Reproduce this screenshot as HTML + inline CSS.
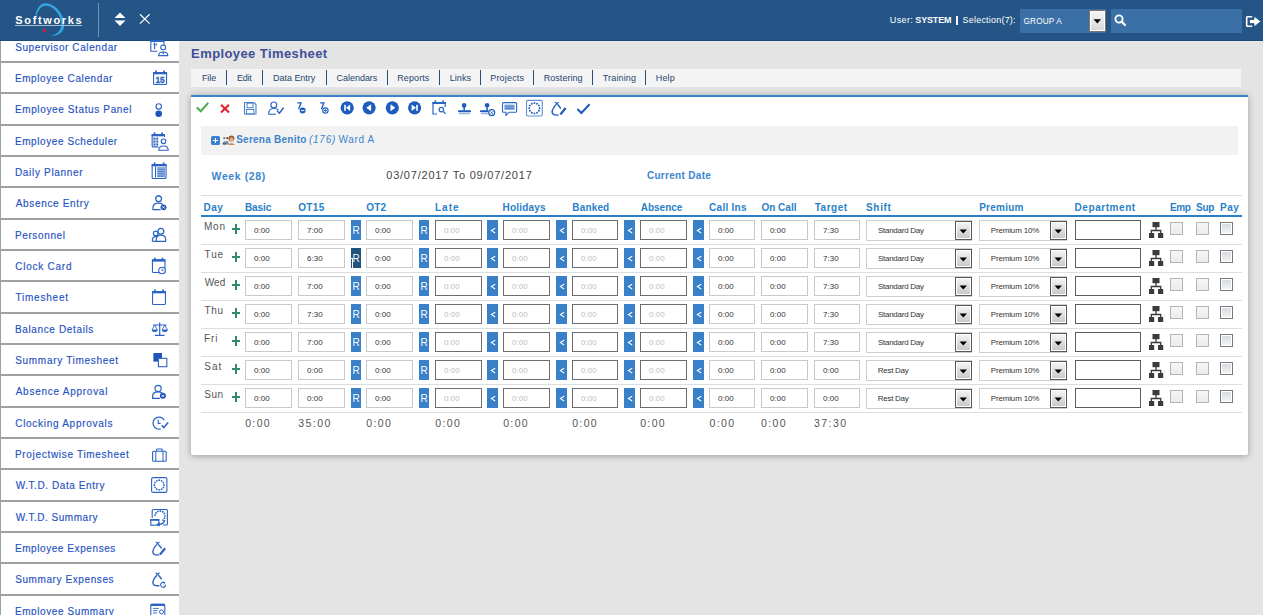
<!DOCTYPE html><html><head><meta charset="utf-8"><style>
html,body{margin:0;padding:0;}
body{width:1263px;height:615px;overflow:hidden;position:relative;background:#e4e4e4;font-family:"Liberation Sans",sans-serif;}
.t{position:absolute;white-space:nowrap;font-family:"Liberation Sans",sans-serif;}
svg{overflow:visible}
</style></head><body>

<div style="position:absolute;left:0px;top:0px;width:1263px;height:40px;background:#245586;"></div>
<div style="position:absolute;left:0px;top:40px;width:1263px;height:1px;background:#1c4a78;"></div>
<div style="position:absolute;left:179px;top:41px;width:1084px;height:1px;background:#ebe9e7;"></div>
<svg style="position:absolute;left:0px;top:0px;" width="100" height="40" viewBox="0 0 100 40"><path d="M35.3 21 C 34.8 10, 39.5 3.2, 45.5 3.2 C 54 3.2, 63.8 12.5, 64.2 24.5 C 64.4 32.5, 58.5 36, 50.5 35.8 C 56.5 35, 61.2 30.5, 61.3 24.5 C 61 14, 53 5.8, 46 5.8 C 40.5 5.8, 36.8 11.5, 35.3 21 Z" fill="#34a6e2"/></svg>
<div class="t" style="left:15.37px;top:15.40px;font-size:11px;line-height:11px;color:#ffffff;font-weight:bold;font-style:normal;letter-spacing:1.629px;">Softworks</div>
<div style="position:absolute;left:15px;top:25px;width:67px;height:1.2px;background:#aebbcc;"></div>
<div style="position:absolute;left:43.3px;top:29.4px;width:3px;height:3px;background:#ee1c1c;border-radius:50%;"></div>
<div style="position:absolute;left:98px;top:3px;width:1px;height:34px;background:#7294b8;"></div>
<svg style="position:absolute;left:114px;top:12px;" width="12" height="15" viewBox="0 0 12 15"><path d="M6 0.5 L11.5 6 L0.5 6 Z" fill="#fff"/><path d="M0.5 8.5 L11.5 8.5 L6 14 Z" fill="#fff"/></svg>
<svg style="position:absolute;left:139px;top:13px;" width="12" height="12" viewBox="0 0 12 12"><path d="M1 1.3 L10.6 10.6 M10.6 1.3 L1 10.6" stroke="#fff" stroke-width="1.2"/></svg>
<div class="t" style="left:889.78px;top:16.20px;font-size:9px;line-height:9px;color:#ffffff;font-weight:normal;font-style:normal;letter-spacing:0.380px;">User:</div>
<div class="t" style="left:915.33px;top:16.20px;font-size:9px;line-height:9px;color:#ffffff;font-weight:bold;font-style:normal;letter-spacing:-0.156px;">SYSTEM</div>
<div style="position:absolute;left:956px;top:16px;width:2px;height:9px;background:#f4f4f4;"></div>
<div class="t" style="left:962.55px;top:16.20px;font-size:9px;line-height:9px;color:#ffffff;font-weight:normal;font-style:normal;letter-spacing:0.207px;">Selection(7):</div>
<div style="position:absolute;left:1020px;top:9px;width:86px;height:24px;background:#3a70a6;"></div>
<div class="t" style="left:1023.59px;top:17.80px;font-size:8.2px;line-height:8.2px;color:#ffffff;font-weight:normal;font-style:normal;letter-spacing:0.144px;">GROUP A</div>
<div style="position:absolute;left:1089px;top:10px;width:17px;height:22px;background:linear-gradient(#f6f6f6,#d6d6d6);border:1px solid #7b736c;box-shadow:inset 1px 1px 0 #fff, inset -1px -1px 0 #fff;box-sizing:border-box;"></div>
<svg style="position:absolute;left:1093px;top:18.5px;" width="9" height="5" viewBox="0 0 9 5"><path d="M0.6 0.3 L8 0.3 L4.3 4.5 Z" fill="#000"/></svg>
<div style="position:absolute;left:1111px;top:9px;width:131px;height:24px;background:#3a70a6;"></div>
<svg style="position:absolute;left:1114px;top:14px;" width="13" height="13" viewBox="0 0 13 13"><circle cx="5" cy="5" r="3.6" fill="none" stroke="#fff" stroke-width="1.8"/><path d="M7.6 7.6 L11 11" stroke="#fff" stroke-width="2.2" stroke-linecap="round"/></svg>
<svg style="position:absolute;left:1240px;top:10px;" width="24" height="20" viewBox="0 0 24 20"><path d="M12.2 6.7 H7.5 Q6.7 6.7 6.7 7.5 V15.5 Q6.7 16.3 7.5 16.3 H12.2" fill="none" stroke="#fff" stroke-width="1.6"/><path d="M9.5 9.6 H14 V6 L20.8 11.5 L14 17 V13.6 H9.5 Z" fill="#fff" stroke="#1d4a77" stroke-width="0.8"/></svg>
<div style="position:absolute;left:0px;top:41px;width:179px;height:574px;background:#ffffff;"></div>
<div style="position:absolute;left:0px;top:41px;width:1px;height:574px;background:#a0a0a0;"></div>
<div style="position:absolute;left:0px;top:61px;width:179px;height:2px;background:#a0a0a0;"></div>
<div class="t" style="left:15.20px;top:42.70px;font-size:10px;line-height:10px;color:#1f52bf;font-weight:normal;font-style:normal;letter-spacing:0.600px;-webkit-text-stroke:0.15px #1f52bf;">Supervisor Calendar</div>
<div style="position:absolute;left:0px;top:92px;width:179px;height:2px;background:#a0a0a0;"></div>
<div class="t" style="left:14.90px;top:74.03px;font-size:10px;line-height:10px;color:#1f52bf;font-weight:normal;font-style:normal;letter-spacing:0.606px;-webkit-text-stroke:0.15px #1f52bf;">Employee Calendar</div>
<div style="position:absolute;left:0px;top:124px;width:179px;height:2px;background:#a0a0a0;"></div>
<div class="t" style="left:14.90px;top:105.37px;font-size:10px;line-height:10px;color:#1f52bf;font-weight:normal;font-style:normal;letter-spacing:0.630px;-webkit-text-stroke:0.15px #1f52bf;">Employee Status Panel</div>
<div style="position:absolute;left:0px;top:155px;width:179px;height:2px;background:#a0a0a0;"></div>
<div class="t" style="left:14.90px;top:136.70px;font-size:10px;line-height:10px;color:#1f52bf;font-weight:normal;font-style:normal;letter-spacing:0.588px;-webkit-text-stroke:0.15px #1f52bf;">Employee Scheduler</div>
<div style="position:absolute;left:0px;top:186px;width:179px;height:2px;background:#a0a0a0;"></div>
<div class="t" style="left:14.90px;top:168.03px;font-size:10px;line-height:10px;color:#1f52bf;font-weight:normal;font-style:normal;letter-spacing:0.692px;-webkit-text-stroke:0.15px #1f52bf;">Daily Planner</div>
<div style="position:absolute;left:0px;top:218px;width:179px;height:2px;background:#a0a0a0;"></div>
<div class="t" style="left:15.70px;top:199.37px;font-size:10px;line-height:10px;color:#1f52bf;font-weight:normal;font-style:normal;letter-spacing:0.667px;-webkit-text-stroke:0.15px #1f52bf;">Absence Entry</div>
<div style="position:absolute;left:0px;top:249px;width:179px;height:2px;background:#a0a0a0;"></div>
<div class="t" style="left:14.90px;top:230.70px;font-size:10px;line-height:10px;color:#1f52bf;font-weight:normal;font-style:normal;letter-spacing:0.638px;-webkit-text-stroke:0.15px #1f52bf;">Personnel</div>
<div style="position:absolute;left:0px;top:280px;width:179px;height:2px;background:#a0a0a0;"></div>
<div class="t" style="left:15.20px;top:262.03px;font-size:10px;line-height:10px;color:#1f52bf;font-weight:normal;font-style:normal;letter-spacing:0.756px;-webkit-text-stroke:0.15px #1f52bf;">Clock Card</div>
<div style="position:absolute;left:0px;top:312px;width:179px;height:2px;background:#a0a0a0;"></div>
<div class="t" style="left:15.50px;top:293.36px;font-size:10px;line-height:10px;color:#1f52bf;font-weight:normal;font-style:normal;letter-spacing:0.775px;-webkit-text-stroke:0.15px #1f52bf;">Timesheet</div>
<div style="position:absolute;left:0px;top:343px;width:179px;height:2px;background:#a0a0a0;"></div>
<div class="t" style="left:14.90px;top:324.70px;font-size:10px;line-height:10px;color:#1f52bf;font-weight:normal;font-style:normal;letter-spacing:0.643px;-webkit-text-stroke:0.15px #1f52bf;">Balance Details</div>
<div style="position:absolute;left:0px;top:374px;width:179px;height:2px;background:#a0a0a0;"></div>
<div class="t" style="left:15.20px;top:356.03px;font-size:10px;line-height:10px;color:#1f52bf;font-weight:normal;font-style:normal;letter-spacing:0.700px;-webkit-text-stroke:0.15px #1f52bf;">Summary Timesheet</div>
<div style="position:absolute;left:0px;top:406px;width:179px;height:2px;background:#a0a0a0;"></div>
<div class="t" style="left:15.70px;top:387.36px;font-size:10px;line-height:10px;color:#1f52bf;font-weight:normal;font-style:normal;letter-spacing:0.740px;-webkit-text-stroke:0.15px #1f52bf;">Absence Approval</div>
<div style="position:absolute;left:0px;top:437px;width:179px;height:2px;background:#a0a0a0;"></div>
<div class="t" style="left:15.20px;top:418.70px;font-size:10px;line-height:10px;color:#1f52bf;font-weight:normal;font-style:normal;letter-spacing:0.718px;-webkit-text-stroke:0.15px #1f52bf;">Clocking Approvals</div>
<div style="position:absolute;left:0px;top:468px;width:179px;height:2px;background:#a0a0a0;"></div>
<div class="t" style="left:14.90px;top:450.03px;font-size:10px;line-height:10px;color:#1f52bf;font-weight:normal;font-style:normal;letter-spacing:0.695px;-webkit-text-stroke:0.15px #1f52bf;">Projectwise Timesheet</div>
<div style="position:absolute;left:0px;top:500px;width:179px;height:2px;background:#a0a0a0;"></div>
<div class="t" style="left:15.70px;top:481.36px;font-size:10px;line-height:10px;color:#1f52bf;font-weight:normal;font-style:normal;letter-spacing:0.581px;-webkit-text-stroke:0.15px #1f52bf;">W.T.D. Data Entry</div>
<div style="position:absolute;left:0px;top:531px;width:179px;height:2px;background:#a0a0a0;"></div>
<div class="t" style="left:15.70px;top:512.69px;font-size:10px;line-height:10px;color:#1f52bf;font-weight:normal;font-style:normal;letter-spacing:0.523px;-webkit-text-stroke:0.15px #1f52bf;">W.T.D. Summary</div>
<div style="position:absolute;left:0px;top:562px;width:179px;height:2px;background:#a0a0a0;"></div>
<div class="t" style="left:14.90px;top:544.03px;font-size:10px;line-height:10px;color:#1f52bf;font-weight:normal;font-style:normal;letter-spacing:0.581px;-webkit-text-stroke:0.15px #1f52bf;">Employee Expenses</div>
<div style="position:absolute;left:0px;top:594px;width:179px;height:2px;background:#a0a0a0;"></div>
<div class="t" style="left:15.20px;top:575.36px;font-size:10px;line-height:10px;color:#1f52bf;font-weight:normal;font-style:normal;letter-spacing:0.593px;-webkit-text-stroke:0.15px #1f52bf;">Summary Expenses</div>
<div style="position:absolute;left:0px;top:625px;width:179px;height:2px;background:#a0a0a0;"></div>
<div class="t" style="left:14.90px;top:606.69px;font-size:10px;line-height:10px;color:#1f52bf;font-weight:normal;font-style:normal;letter-spacing:0.593px;-webkit-text-stroke:0.15px #1f52bf;">Employee Summary</div>
<!--SIDEBAR_ICONS-->
<div class="t" style="left:191.09px;top:47.30px;font-size:13px;line-height:13px;color:#3e4f97;font-weight:bold;font-style:normal;letter-spacing:0.409px;">Employee Timesheet</div>
<div style="position:absolute;left:191px;top:69px;width:1050px;height:18px;background:#f4f4f4;"></div>
<div class="t" style="left:201.98px;top:74.40px;font-size:9px;line-height:9px;color:#24466f;font-weight:normal;font-style:normal;letter-spacing:-0.103px;">File</div>
<div class="t" style="left:236.88px;top:74.40px;font-size:9px;line-height:9px;color:#24466f;font-weight:normal;font-style:normal;letter-spacing:-0.187px;">Edit</div>
<div class="t" style="left:272.98px;top:74.40px;font-size:9px;line-height:9px;color:#24466f;font-weight:normal;font-style:normal;letter-spacing:-0.018px;">Data Entry</div>
<div class="t" style="left:336.55px;top:74.40px;font-size:9px;line-height:9px;color:#24466f;font-weight:normal;font-style:normal;letter-spacing:-0.029px;">Calendars</div>
<div class="t" style="left:397.28px;top:74.40px;font-size:9px;line-height:9px;color:#24466f;font-weight:normal;font-style:normal;letter-spacing:0.097px;">Reports</div>
<div class="t" style="left:449.68px;top:74.40px;font-size:9px;line-height:9px;color:#24466f;font-weight:normal;font-style:normal;letter-spacing:0.078px;">Links</div>
<div class="t" style="left:490.28px;top:74.40px;font-size:9px;line-height:9px;color:#24466f;font-weight:normal;font-style:normal;letter-spacing:0.170px;">Projects</div>
<div class="t" style="left:543.68px;top:74.40px;font-size:9px;line-height:9px;color:#24466f;font-weight:normal;font-style:normal;letter-spacing:0.054px;">Rostering</div>
<div class="t" style="left:602.82px;top:74.40px;font-size:9px;line-height:9px;color:#24466f;font-weight:normal;font-style:normal;letter-spacing:0.141px;">Training</div>
<div class="t" style="left:655.68px;top:74.40px;font-size:9px;line-height:9px;color:#24466f;font-weight:normal;font-style:normal;letter-spacing:0.213px;">Help</div>
<div style="position:absolute;left:226px;top:70px;width:1px;height:15px;background:#24507e;"></div>
<div style="position:absolute;left:262px;top:70px;width:1px;height:15px;background:#24507e;"></div>
<div style="position:absolute;left:326px;top:70px;width:1px;height:15px;background:#24507e;"></div>
<div style="position:absolute;left:387px;top:70px;width:1px;height:15px;background:#24507e;"></div>
<div style="position:absolute;left:439px;top:70px;width:1px;height:15px;background:#24507e;"></div>
<div style="position:absolute;left:480px;top:70px;width:1px;height:15px;background:#24507e;"></div>
<div style="position:absolute;left:533px;top:70px;width:1px;height:15px;background:#24507e;"></div>
<div style="position:absolute;left:592px;top:70px;width:1px;height:15px;background:#24507e;"></div>
<div style="position:absolute;left:645px;top:70px;width:1px;height:15px;background:#24507e;"></div>
<div style="position:absolute;left:191px;top:95px;width:1057px;height:360px;background:#fff;border-top:2px solid #3a82cc;box-sizing:border-box;box-shadow:0 1px 7px rgba(0,0,0,0.33);border-radius:0 0 2px 2px;"></div>
<!--TOOLBAR-->
<div style="position:absolute;left:201px;top:126px;width:1037px;height:29px;background:#f2f2f2;"></div>
<div style="position:absolute;left:211px;top:136px;width:9px;height:9px;background:#3a80d0;border-radius:1.5px;"></div>
<div style="position:absolute;left:213px;top:140px;width:5px;height:1px;background:#fff;"></div>
<div style="position:absolute;left:215px;top:138px;width:1px;height:5px;background:#fff;"></div>
<svg style="position:absolute;left:222px;top:135px;" width="13" height="10" viewBox="0 0 13 10"><ellipse cx="6.5" cy="5" rx="6.5" ry="5" fill="#f4f4f4"/><circle cx="2.3" cy="3.2" r="1.1" fill="#8a7466"/><circle cx="5.2" cy="3.2" r="1.1" fill="#6b5a50"/><path d="M0.5 9 C 0.5 6, 4 5.5, 6.5 6.5 L 7 9.5 Z" fill="#7f8fa8"/><path d="M0.8 8.3 H4.5 V9.6 H0.8 Z" fill="#555"/><circle cx="9.4" cy="3.6" r="3" fill="#9a5a35"/><ellipse cx="9.6" cy="5" rx="1.9" ry="2.4" fill="#e5b48f"/><path d="M6.3 10 C 6.5 7.6, 12.5 7.6, 12.7 10 Z" fill="#c98a64"/></svg>
<div class="t" style="left:236.20px;top:135.20px;font-size:10px;line-height:10px;color:#3d84cc;font-weight:bold;font-style:normal;letter-spacing:0.250px;">Serena Benito</div>
<div class="t" style="left:309.00px;top:135.20px;font-size:10px;line-height:10px;color:#3d84cc;font-weight:normal;font-style:italic;letter-spacing:0.725px;">(176)</div>
<div class="t" style="left:338.60px;top:135.20px;font-size:10px;line-height:10px;color:#3d84cc;font-weight:normal;font-style:normal;letter-spacing:0.620px;">Ward A</div>
<div class="t" style="left:211.60px;top:170.90px;font-size:10.5px;line-height:10.5px;color:#3c86cf;font-weight:bold;font-style:normal;letter-spacing:0.600px;">Week (28)</div>
<div class="t" style="left:386.26px;top:170.40px;font-size:11px;line-height:11px;color:#444444;font-weight:normal;font-style:normal;letter-spacing:0.777px;">03/07/2017 To 09/07/2017</div>
<div class="t" style="left:646.90px;top:171.40px;font-size:10px;line-height:10px;color:#3c86cf;font-weight:bold;font-style:normal;letter-spacing:0.309px;">Current Date</div>
<div style="position:absolute;left:201px;top:195px;width:1041px;height:1px;background:#dcdcdc;"></div>
<div class="t" style="left:203.60px;top:202.60px;font-size:10px;line-height:10px;color:#2a7fc9;font-weight:bold;font-style:normal;letter-spacing:0.450px;">Day</div>
<div class="t" style="left:244.90px;top:202.60px;font-size:10px;line-height:10px;color:#2a7fc9;font-weight:bold;font-style:normal;letter-spacing:-0.075px;">Basic</div>
<div class="t" style="left:298.20px;top:202.60px;font-size:10px;line-height:10px;color:#2a7fc9;font-weight:bold;font-style:normal;letter-spacing:0.367px;">OT15</div>
<div class="t" style="left:366.30px;top:202.60px;font-size:10px;line-height:10px;color:#2a7fc9;font-weight:bold;font-style:normal;letter-spacing:0.150px;">OT2</div>
<div class="t" style="left:435.00px;top:202.60px;font-size:10px;line-height:10px;color:#2a7fc9;font-weight:bold;font-style:normal;letter-spacing:1.000px;">Late</div>
<div class="t" style="left:502.60px;top:202.60px;font-size:10px;line-height:10px;color:#2a7fc9;font-weight:bold;font-style:normal;letter-spacing:0.200px;">Holidays</div>
<div class="t" style="left:572.30px;top:202.60px;font-size:10px;line-height:10px;color:#2a7fc9;font-weight:bold;font-style:normal;letter-spacing:0.160px;">Banked</div>
<div class="t" style="left:640.70px;top:202.60px;font-size:10px;line-height:10px;color:#2a7fc9;font-weight:bold;font-style:normal;letter-spacing:0.000px;">Absence</div>
<div class="t" style="left:709.10px;top:202.60px;font-size:10px;line-height:10px;color:#2a7fc9;font-weight:bold;font-style:normal;letter-spacing:0.271px;">Call Ins</div>
<div class="t" style="left:761.40px;top:202.60px;font-size:10px;line-height:10px;color:#2a7fc9;font-weight:bold;font-style:normal;letter-spacing:0.017px;">On Call</div>
<div class="t" style="left:814.70px;top:202.60px;font-size:10px;line-height:10px;color:#2a7fc9;font-weight:bold;font-style:normal;letter-spacing:0.520px;">Target</div>
<div class="t" style="left:866.00px;top:202.60px;font-size:10px;line-height:10px;color:#2a7fc9;font-weight:bold;font-style:normal;letter-spacing:0.675px;">Shift</div>
<div class="t" style="left:979.20px;top:202.60px;font-size:10px;line-height:10px;color:#2a7fc9;font-weight:bold;font-style:normal;letter-spacing:0.250px;">Premium</div>
<div class="t" style="left:1074.60px;top:202.60px;font-size:10px;line-height:10px;color:#2a7fc9;font-weight:bold;font-style:normal;letter-spacing:0.556px;">Department</div>
<div class="t" style="left:1169.90px;top:202.60px;font-size:10px;line-height:10px;color:#2a7fc9;font-weight:bold;font-style:normal;letter-spacing:-0.350px;">Emp</div>
<div class="t" style="left:1196.00px;top:202.60px;font-size:10px;line-height:10px;color:#2a7fc9;font-weight:bold;font-style:normal;letter-spacing:-0.250px;">Sup</div>
<div class="t" style="left:1220.10px;top:202.60px;font-size:10px;line-height:10px;color:#2a7fc9;font-weight:bold;font-style:normal;letter-spacing:0.500px;">Pay</div>
<div style="position:absolute;left:201px;top:215px;width:1041px;height:2px;background:#2a7fc9;"></div>
<div class="t" style="left:203.90px;top:222.00px;font-size:10px;line-height:10px;color:#555555;font-weight:normal;font-style:normal;letter-spacing:0.800px;">Mon</div>
<div style="position:absolute;left:231.8px;top:227.5px;width:8.5px;height:2.2px;background:#2f8a70;"></div>
<div style="position:absolute;left:234.9px;top:224px;width:2.2px;height:9.5px;background:#2f8a70;"></div>
<div style="position:absolute;left:245px;top:220px;width:47px;height:20px;background:#fff;border:1px solid #c9c9c9;box-sizing:border-box;"></div>
<div class="t" style="left:253.98px;top:227.30px;font-size:8px;line-height:8px;color:#333333;font-weight:normal;font-style:normal;letter-spacing:0.013px;">0:00</div>
<div style="position:absolute;left:298px;top:220px;width:47px;height:20px;background:#fff;border:1px solid #c9c9c9;box-sizing:border-box;"></div>
<div class="t" style="left:306.90px;top:227.30px;font-size:8px;line-height:8px;color:#333333;font-weight:normal;font-style:normal;letter-spacing:0.040px;">7:00</div>
<div style="position:absolute;left:351px;top:220px;width:10px;height:20px;background:#3a80c8;"></div>
<div class="t" style="left:352.40px;top:226.10px;font-size:10px;line-height:10px;color:#ffffff;font-weight:normal;font-style:normal;letter-spacing:0.000px;">R</div>
<div style="position:absolute;left:366px;top:220px;width:47px;height:20px;background:#fff;border:1px solid #c9c9c9;box-sizing:border-box;"></div>
<div class="t" style="left:374.98px;top:227.30px;font-size:8px;line-height:8px;color:#333333;font-weight:normal;font-style:normal;letter-spacing:0.013px;">0:00</div>
<div style="position:absolute;left:419px;top:220px;width:10px;height:20px;background:#3a80c8;"></div>
<div class="t" style="left:420.40px;top:226.10px;font-size:10px;line-height:10px;color:#ffffff;font-weight:normal;font-style:normal;letter-spacing:0.000px;">R</div>
<div style="position:absolute;left:435px;top:220px;width:47px;height:20px;background:#fff;border:1px solid #6d6d6d;box-sizing:border-box;"></div>
<div class="t" style="left:443.98px;top:227.30px;font-size:8px;line-height:8px;color:#bdbdbd;font-weight:normal;font-style:normal;letter-spacing:0.013px;">0:00</div>
<div style="position:absolute;left:487px;top:220px;width:11px;height:20px;background:#3a80c8;"></div>
<svg style="position:absolute;left:489px;top:227px;" width="7" height="7" viewBox="0 0 7 7"><path d="M6.2 1.2 L2.4 3.6 L6.2 6" fill="none" stroke="#fff" stroke-width="1.1"/></svg>
<div style="position:absolute;left:503px;top:220px;width:47px;height:20px;background:#fff;border:1px solid #6d6d6d;box-sizing:border-box;"></div>
<div class="t" style="left:511.98px;top:227.30px;font-size:8px;line-height:8px;color:#bdbdbd;font-weight:normal;font-style:normal;letter-spacing:0.013px;">0:00</div>
<div style="position:absolute;left:556px;top:220px;width:11px;height:20px;background:#3a80c8;"></div>
<svg style="position:absolute;left:558px;top:227px;" width="7" height="7" viewBox="0 0 7 7"><path d="M6.2 1.2 L2.4 3.6 L6.2 6" fill="none" stroke="#fff" stroke-width="1.1"/></svg>
<div style="position:absolute;left:572px;top:220px;width:46px;height:20px;background:#fff;border:1px solid #6d6d6d;box-sizing:border-box;"></div>
<div class="t" style="left:580.98px;top:227.30px;font-size:8px;line-height:8px;color:#bdbdbd;font-weight:normal;font-style:normal;letter-spacing:0.013px;">0:00</div>
<div style="position:absolute;left:624px;top:220px;width:11px;height:20px;background:#3a80c8;"></div>
<svg style="position:absolute;left:626px;top:227px;" width="7" height="7" viewBox="0 0 7 7"><path d="M6.2 1.2 L2.4 3.6 L6.2 6" fill="none" stroke="#fff" stroke-width="1.1"/></svg>
<div style="position:absolute;left:640px;top:220px;width:47px;height:20px;background:#fff;border:1px solid #6d6d6d;box-sizing:border-box;"></div>
<div class="t" style="left:648.98px;top:227.30px;font-size:8px;line-height:8px;color:#bdbdbd;font-weight:normal;font-style:normal;letter-spacing:0.013px;">0:00</div>
<div style="position:absolute;left:693px;top:220px;width:11px;height:20px;background:#3a80c8;"></div>
<svg style="position:absolute;left:695px;top:227px;" width="7" height="7" viewBox="0 0 7 7"><path d="M6.2 1.2 L2.4 3.6 L6.2 6" fill="none" stroke="#fff" stroke-width="1.1"/></svg>
<div style="position:absolute;left:709px;top:220px;width:46px;height:20px;background:#fff;border:1px solid #c9c9c9;box-sizing:border-box;"></div>
<div class="t" style="left:717.98px;top:227.30px;font-size:8px;line-height:8px;color:#333333;font-weight:normal;font-style:normal;letter-spacing:0.013px;">0:00</div>
<div style="position:absolute;left:761px;top:220px;width:47px;height:20px;background:#fff;border:1px solid #c9c9c9;box-sizing:border-box;"></div>
<div class="t" style="left:769.98px;top:227.30px;font-size:8px;line-height:8px;color:#333333;font-weight:normal;font-style:normal;letter-spacing:0.013px;">0:00</div>
<div style="position:absolute;left:814px;top:220px;width:46px;height:20px;background:#fff;border:1px solid #c9c9c9;box-sizing:border-box;"></div>
<div class="t" style="left:822.90px;top:227.30px;font-size:8px;line-height:8px;color:#333333;font-weight:normal;font-style:normal;letter-spacing:0.040px;">7:30</div>
<div style="position:absolute;left:866px;top:220px;width:106px;height:21px;background:#fff;border:1px solid #cfcfcf;box-sizing:border-box;"></div>
<div class="t" style="left:877.90px;top:227.30px;font-size:8px;line-height:8px;color:#333333;font-weight:normal;font-style:normal;letter-spacing:-0.253px;">Standard Day</div>
<div style="position:absolute;left:955px;top:221px;width:17px;height:19px;background:linear-gradient(#f6f6f6,#c6c6c6);border:1px solid #585858;box-shadow:inset 0 0 0 1px #fff;box-sizing:border-box;"></div>
<svg style="position:absolute;left:959px;top:229px;" width="9" height="5" viewBox="0 0 9 5"><path d="M0.5 0.5 L8 0.5 L4.25 4.5 Z" fill="#000"/></svg>
<div style="position:absolute;left:979px;top:220px;width:88px;height:21px;background:#fff;border:1px solid #cfcfcf;box-sizing:border-box;"></div>
<div class="t" style="left:990.86px;top:227.30px;font-size:8px;line-height:8px;color:#333333;font-weight:normal;font-style:normal;letter-spacing:-0.178px;">Premium 10%</div>
<div style="position:absolute;left:1050px;top:221px;width:17px;height:19px;background:linear-gradient(#f6f6f6,#c6c6c6);border:1px solid #585858;box-shadow:inset 0 0 0 1px #fff;box-sizing:border-box;"></div>
<svg style="position:absolute;left:1054px;top:229px;" width="9" height="5" viewBox="0 0 9 5"><path d="M0.5 0.5 L8 0.5 L4.25 4.5 Z" fill="#000"/></svg>
<div style="position:absolute;left:1075px;top:220px;width:66px;height:20px;background:#fff;border:1px solid #5e5e5e;box-sizing:border-box;"></div>
<svg style="position:absolute;left:1149px;top:222px;" width="15" height="16" viewBox="0 0 15 16"><rect x="3.5" y="0" width="7" height="5.2" fill="#3b3b3b"/><path d="M7 5 V8.5 M2.3 11 V8.5 H11.7 V11" fill="none" stroke="#3b3b3b" stroke-width="1.3"/><rect x="0" y="11" width="5.2" height="5" fill="#3b3b3b"/><rect x="9" y="11" width="5.2" height="5" fill="#3b3b3b"/></svg>
<div style="position:absolute;left:1170px;top:222px;width:13px;height:13px;background:linear-gradient(#f6f6f6,#ececec);border:1px solid #b4b4b4;box-sizing:border-box;"></div>
<div style="position:absolute;left:1196px;top:222px;width:13px;height:13px;background:linear-gradient(#f6f6f6,#ececec);border:1px solid #b4b4b4;box-sizing:border-box;"></div>
<div style="position:absolute;left:1220px;top:222px;width:13px;height:13px;background:linear-gradient(#d4dae2,#f4f4f4);border:1px solid #7a7a7a;box-sizing:border-box;box-shadow:inset 0 0 0 1px #fff;"></div>
<div style="position:absolute;left:201px;top:244px;width:1041px;height:1px;background:#dedede;"></div>
<div class="t" style="left:204.50px;top:250.00px;font-size:10px;line-height:10px;color:#555555;font-weight:normal;font-style:normal;letter-spacing:0.900px;">Tue</div>
<div style="position:absolute;left:231.8px;top:255.5px;width:8.5px;height:2.2px;background:#2f8a70;"></div>
<div style="position:absolute;left:234.9px;top:252px;width:2.2px;height:9.5px;background:#2f8a70;"></div>
<div style="position:absolute;left:245px;top:248px;width:47px;height:20px;background:#fff;border:1px solid #c9c9c9;box-sizing:border-box;"></div>
<div class="t" style="left:253.98px;top:255.30px;font-size:8px;line-height:8px;color:#333333;font-weight:normal;font-style:normal;letter-spacing:0.013px;">0:00</div>
<div style="position:absolute;left:298px;top:248px;width:47px;height:20px;background:#fff;border:1px solid #c9c9c9;box-sizing:border-box;"></div>
<div class="t" style="left:306.90px;top:255.30px;font-size:8px;line-height:8px;color:#333333;font-weight:normal;font-style:normal;letter-spacing:0.040px;">6:30</div>
<div style="position:absolute;left:351px;top:248px;width:10px;height:20px;background:#22527f;"></div>
<div class="t" style="left:352.40px;top:254.10px;font-size:10px;line-height:10px;color:#ffffff;font-weight:normal;font-style:normal;letter-spacing:0.000px;">R</div>
<div style="position:absolute;left:352px;top:258px;width:1px;height:10px;background:#fff;"></div>
<div style="position:absolute;left:351px;top:258px;width:2px;height:1px;background:#fff;"></div>
<div style="position:absolute;left:366px;top:248px;width:47px;height:20px;background:#fff;border:1px solid #c9c9c9;box-sizing:border-box;"></div>
<div class="t" style="left:374.98px;top:255.30px;font-size:8px;line-height:8px;color:#333333;font-weight:normal;font-style:normal;letter-spacing:0.013px;">0:00</div>
<div style="position:absolute;left:419px;top:248px;width:10px;height:20px;background:#3a80c8;"></div>
<div class="t" style="left:420.40px;top:254.10px;font-size:10px;line-height:10px;color:#ffffff;font-weight:normal;font-style:normal;letter-spacing:0.000px;">R</div>
<div style="position:absolute;left:435px;top:248px;width:47px;height:20px;background:#fff;border:1px solid #6d6d6d;box-sizing:border-box;"></div>
<div class="t" style="left:443.98px;top:255.30px;font-size:8px;line-height:8px;color:#bdbdbd;font-weight:normal;font-style:normal;letter-spacing:0.013px;">0:00</div>
<div style="position:absolute;left:487px;top:248px;width:11px;height:20px;background:#3a80c8;"></div>
<svg style="position:absolute;left:489px;top:255px;" width="7" height="7" viewBox="0 0 7 7"><path d="M6.2 1.2 L2.4 3.6 L6.2 6" fill="none" stroke="#fff" stroke-width="1.1"/></svg>
<div style="position:absolute;left:503px;top:248px;width:47px;height:20px;background:#fff;border:1px solid #6d6d6d;box-sizing:border-box;"></div>
<div class="t" style="left:511.98px;top:255.30px;font-size:8px;line-height:8px;color:#bdbdbd;font-weight:normal;font-style:normal;letter-spacing:0.013px;">0:00</div>
<div style="position:absolute;left:556px;top:248px;width:11px;height:20px;background:#3a80c8;"></div>
<svg style="position:absolute;left:558px;top:255px;" width="7" height="7" viewBox="0 0 7 7"><path d="M6.2 1.2 L2.4 3.6 L6.2 6" fill="none" stroke="#fff" stroke-width="1.1"/></svg>
<div style="position:absolute;left:572px;top:248px;width:46px;height:20px;background:#fff;border:1px solid #6d6d6d;box-sizing:border-box;"></div>
<div class="t" style="left:580.98px;top:255.30px;font-size:8px;line-height:8px;color:#bdbdbd;font-weight:normal;font-style:normal;letter-spacing:0.013px;">0:00</div>
<div style="position:absolute;left:624px;top:248px;width:11px;height:20px;background:#3a80c8;"></div>
<svg style="position:absolute;left:626px;top:255px;" width="7" height="7" viewBox="0 0 7 7"><path d="M6.2 1.2 L2.4 3.6 L6.2 6" fill="none" stroke="#fff" stroke-width="1.1"/></svg>
<div style="position:absolute;left:640px;top:248px;width:47px;height:20px;background:#fff;border:1px solid #6d6d6d;box-sizing:border-box;"></div>
<div class="t" style="left:648.98px;top:255.30px;font-size:8px;line-height:8px;color:#bdbdbd;font-weight:normal;font-style:normal;letter-spacing:0.013px;">0:00</div>
<div style="position:absolute;left:693px;top:248px;width:11px;height:20px;background:#3a80c8;"></div>
<svg style="position:absolute;left:695px;top:255px;" width="7" height="7" viewBox="0 0 7 7"><path d="M6.2 1.2 L2.4 3.6 L6.2 6" fill="none" stroke="#fff" stroke-width="1.1"/></svg>
<div style="position:absolute;left:709px;top:248px;width:46px;height:20px;background:#fff;border:1px solid #c9c9c9;box-sizing:border-box;"></div>
<div class="t" style="left:717.98px;top:255.30px;font-size:8px;line-height:8px;color:#333333;font-weight:normal;font-style:normal;letter-spacing:0.013px;">0:00</div>
<div style="position:absolute;left:761px;top:248px;width:47px;height:20px;background:#fff;border:1px solid #c9c9c9;box-sizing:border-box;"></div>
<div class="t" style="left:769.98px;top:255.30px;font-size:8px;line-height:8px;color:#333333;font-weight:normal;font-style:normal;letter-spacing:0.013px;">0:00</div>
<div style="position:absolute;left:814px;top:248px;width:46px;height:20px;background:#fff;border:1px solid #c9c9c9;box-sizing:border-box;"></div>
<div class="t" style="left:822.90px;top:255.30px;font-size:8px;line-height:8px;color:#333333;font-weight:normal;font-style:normal;letter-spacing:0.040px;">7:30</div>
<div style="position:absolute;left:866px;top:248px;width:106px;height:21px;background:#fff;border:1px solid #cfcfcf;box-sizing:border-box;"></div>
<div class="t" style="left:877.90px;top:255.30px;font-size:8px;line-height:8px;color:#333333;font-weight:normal;font-style:normal;letter-spacing:-0.253px;">Standard Day</div>
<div style="position:absolute;left:955px;top:249px;width:17px;height:19px;background:linear-gradient(#f6f6f6,#c6c6c6);border:1px solid #585858;box-shadow:inset 0 0 0 1px #fff;box-sizing:border-box;"></div>
<svg style="position:absolute;left:959px;top:257px;" width="9" height="5" viewBox="0 0 9 5"><path d="M0.5 0.5 L8 0.5 L4.25 4.5 Z" fill="#000"/></svg>
<div style="position:absolute;left:979px;top:248px;width:88px;height:21px;background:#fff;border:1px solid #cfcfcf;box-sizing:border-box;"></div>
<div class="t" style="left:990.86px;top:255.30px;font-size:8px;line-height:8px;color:#333333;font-weight:normal;font-style:normal;letter-spacing:-0.178px;">Premium 10%</div>
<div style="position:absolute;left:1050px;top:249px;width:17px;height:19px;background:linear-gradient(#f6f6f6,#c6c6c6);border:1px solid #585858;box-shadow:inset 0 0 0 1px #fff;box-sizing:border-box;"></div>
<svg style="position:absolute;left:1054px;top:257px;" width="9" height="5" viewBox="0 0 9 5"><path d="M0.5 0.5 L8 0.5 L4.25 4.5 Z" fill="#000"/></svg>
<div style="position:absolute;left:1075px;top:248px;width:66px;height:20px;background:#fff;border:1px solid #5e5e5e;box-sizing:border-box;"></div>
<svg style="position:absolute;left:1149px;top:250px;" width="15" height="16" viewBox="0 0 15 16"><rect x="3.5" y="0" width="7" height="5.2" fill="#3b3b3b"/><path d="M7 5 V8.5 M2.3 11 V8.5 H11.7 V11" fill="none" stroke="#3b3b3b" stroke-width="1.3"/><rect x="0" y="11" width="5.2" height="5" fill="#3b3b3b"/><rect x="9" y="11" width="5.2" height="5" fill="#3b3b3b"/></svg>
<div style="position:absolute;left:1170px;top:250px;width:13px;height:13px;background:linear-gradient(#f6f6f6,#ececec);border:1px solid #b4b4b4;box-sizing:border-box;"></div>
<div style="position:absolute;left:1196px;top:250px;width:13px;height:13px;background:linear-gradient(#f6f6f6,#ececec);border:1px solid #b4b4b4;box-sizing:border-box;"></div>
<div style="position:absolute;left:1220px;top:250px;width:13px;height:13px;background:linear-gradient(#d4dae2,#f4f4f4);border:1px solid #7a7a7a;box-sizing:border-box;box-shadow:inset 0 0 0 1px #fff;"></div>
<div style="position:absolute;left:201px;top:272px;width:1041px;height:1px;background:#dedede;"></div>
<div class="t" style="left:204.70px;top:278.00px;font-size:10px;line-height:10px;color:#555555;font-weight:normal;font-style:normal;letter-spacing:0.150px;">Wed</div>
<div style="position:absolute;left:231.8px;top:283.5px;width:8.5px;height:2.2px;background:#2f8a70;"></div>
<div style="position:absolute;left:234.9px;top:280px;width:2.2px;height:9.5px;background:#2f8a70;"></div>
<div style="position:absolute;left:245px;top:276px;width:47px;height:20px;background:#fff;border:1px solid #c9c9c9;box-sizing:border-box;"></div>
<div class="t" style="left:253.98px;top:283.30px;font-size:8px;line-height:8px;color:#333333;font-weight:normal;font-style:normal;letter-spacing:0.013px;">0:00</div>
<div style="position:absolute;left:298px;top:276px;width:47px;height:20px;background:#fff;border:1px solid #c9c9c9;box-sizing:border-box;"></div>
<div class="t" style="left:306.90px;top:283.30px;font-size:8px;line-height:8px;color:#333333;font-weight:normal;font-style:normal;letter-spacing:0.040px;">7:00</div>
<div style="position:absolute;left:351px;top:276px;width:10px;height:20px;background:#3a80c8;"></div>
<div class="t" style="left:352.40px;top:282.10px;font-size:10px;line-height:10px;color:#ffffff;font-weight:normal;font-style:normal;letter-spacing:0.000px;">R</div>
<div style="position:absolute;left:366px;top:276px;width:47px;height:20px;background:#fff;border:1px solid #c9c9c9;box-sizing:border-box;"></div>
<div class="t" style="left:374.98px;top:283.30px;font-size:8px;line-height:8px;color:#333333;font-weight:normal;font-style:normal;letter-spacing:0.013px;">0:00</div>
<div style="position:absolute;left:419px;top:276px;width:10px;height:20px;background:#3a80c8;"></div>
<div class="t" style="left:420.40px;top:282.10px;font-size:10px;line-height:10px;color:#ffffff;font-weight:normal;font-style:normal;letter-spacing:0.000px;">R</div>
<div style="position:absolute;left:435px;top:276px;width:47px;height:20px;background:#fff;border:1px solid #6d6d6d;box-sizing:border-box;"></div>
<div class="t" style="left:443.98px;top:283.30px;font-size:8px;line-height:8px;color:#bdbdbd;font-weight:normal;font-style:normal;letter-spacing:0.013px;">0:00</div>
<div style="position:absolute;left:487px;top:276px;width:11px;height:20px;background:#3a80c8;"></div>
<svg style="position:absolute;left:489px;top:283px;" width="7" height="7" viewBox="0 0 7 7"><path d="M6.2 1.2 L2.4 3.6 L6.2 6" fill="none" stroke="#fff" stroke-width="1.1"/></svg>
<div style="position:absolute;left:503px;top:276px;width:47px;height:20px;background:#fff;border:1px solid #6d6d6d;box-sizing:border-box;"></div>
<div class="t" style="left:511.98px;top:283.30px;font-size:8px;line-height:8px;color:#bdbdbd;font-weight:normal;font-style:normal;letter-spacing:0.013px;">0:00</div>
<div style="position:absolute;left:556px;top:276px;width:11px;height:20px;background:#3a80c8;"></div>
<svg style="position:absolute;left:558px;top:283px;" width="7" height="7" viewBox="0 0 7 7"><path d="M6.2 1.2 L2.4 3.6 L6.2 6" fill="none" stroke="#fff" stroke-width="1.1"/></svg>
<div style="position:absolute;left:572px;top:276px;width:46px;height:20px;background:#fff;border:1px solid #6d6d6d;box-sizing:border-box;"></div>
<div class="t" style="left:580.98px;top:283.30px;font-size:8px;line-height:8px;color:#bdbdbd;font-weight:normal;font-style:normal;letter-spacing:0.013px;">0:00</div>
<div style="position:absolute;left:624px;top:276px;width:11px;height:20px;background:#3a80c8;"></div>
<svg style="position:absolute;left:626px;top:283px;" width="7" height="7" viewBox="0 0 7 7"><path d="M6.2 1.2 L2.4 3.6 L6.2 6" fill="none" stroke="#fff" stroke-width="1.1"/></svg>
<div style="position:absolute;left:640px;top:276px;width:47px;height:20px;background:#fff;border:1px solid #6d6d6d;box-sizing:border-box;"></div>
<div class="t" style="left:648.98px;top:283.30px;font-size:8px;line-height:8px;color:#bdbdbd;font-weight:normal;font-style:normal;letter-spacing:0.013px;">0:00</div>
<div style="position:absolute;left:693px;top:276px;width:11px;height:20px;background:#3a80c8;"></div>
<svg style="position:absolute;left:695px;top:283px;" width="7" height="7" viewBox="0 0 7 7"><path d="M6.2 1.2 L2.4 3.6 L6.2 6" fill="none" stroke="#fff" stroke-width="1.1"/></svg>
<div style="position:absolute;left:709px;top:276px;width:46px;height:20px;background:#fff;border:1px solid #c9c9c9;box-sizing:border-box;"></div>
<div class="t" style="left:717.98px;top:283.30px;font-size:8px;line-height:8px;color:#333333;font-weight:normal;font-style:normal;letter-spacing:0.013px;">0:00</div>
<div style="position:absolute;left:761px;top:276px;width:47px;height:20px;background:#fff;border:1px solid #c9c9c9;box-sizing:border-box;"></div>
<div class="t" style="left:769.98px;top:283.30px;font-size:8px;line-height:8px;color:#333333;font-weight:normal;font-style:normal;letter-spacing:0.013px;">0:00</div>
<div style="position:absolute;left:814px;top:276px;width:46px;height:20px;background:#fff;border:1px solid #c9c9c9;box-sizing:border-box;"></div>
<div class="t" style="left:822.90px;top:283.30px;font-size:8px;line-height:8px;color:#333333;font-weight:normal;font-style:normal;letter-spacing:0.040px;">7:30</div>
<div style="position:absolute;left:866px;top:276px;width:106px;height:21px;background:#fff;border:1px solid #cfcfcf;box-sizing:border-box;"></div>
<div class="t" style="left:877.90px;top:283.30px;font-size:8px;line-height:8px;color:#333333;font-weight:normal;font-style:normal;letter-spacing:-0.253px;">Standard Day</div>
<div style="position:absolute;left:955px;top:277px;width:17px;height:19px;background:linear-gradient(#f6f6f6,#c6c6c6);border:1px solid #585858;box-shadow:inset 0 0 0 1px #fff;box-sizing:border-box;"></div>
<svg style="position:absolute;left:959px;top:285px;" width="9" height="5" viewBox="0 0 9 5"><path d="M0.5 0.5 L8 0.5 L4.25 4.5 Z" fill="#000"/></svg>
<div style="position:absolute;left:979px;top:276px;width:88px;height:21px;background:#fff;border:1px solid #cfcfcf;box-sizing:border-box;"></div>
<div class="t" style="left:990.86px;top:283.30px;font-size:8px;line-height:8px;color:#333333;font-weight:normal;font-style:normal;letter-spacing:-0.178px;">Premium 10%</div>
<div style="position:absolute;left:1050px;top:277px;width:17px;height:19px;background:linear-gradient(#f6f6f6,#c6c6c6);border:1px solid #585858;box-shadow:inset 0 0 0 1px #fff;box-sizing:border-box;"></div>
<svg style="position:absolute;left:1054px;top:285px;" width="9" height="5" viewBox="0 0 9 5"><path d="M0.5 0.5 L8 0.5 L4.25 4.5 Z" fill="#000"/></svg>
<div style="position:absolute;left:1075px;top:276px;width:66px;height:20px;background:#fff;border:1px solid #5e5e5e;box-sizing:border-box;"></div>
<svg style="position:absolute;left:1149px;top:278px;" width="15" height="16" viewBox="0 0 15 16"><rect x="3.5" y="0" width="7" height="5.2" fill="#3b3b3b"/><path d="M7 5 V8.5 M2.3 11 V8.5 H11.7 V11" fill="none" stroke="#3b3b3b" stroke-width="1.3"/><rect x="0" y="11" width="5.2" height="5" fill="#3b3b3b"/><rect x="9" y="11" width="5.2" height="5" fill="#3b3b3b"/></svg>
<div style="position:absolute;left:1170px;top:278px;width:13px;height:13px;background:linear-gradient(#f6f6f6,#ececec);border:1px solid #b4b4b4;box-sizing:border-box;"></div>
<div style="position:absolute;left:1196px;top:278px;width:13px;height:13px;background:linear-gradient(#f6f6f6,#ececec);border:1px solid #b4b4b4;box-sizing:border-box;"></div>
<div style="position:absolute;left:1220px;top:278px;width:13px;height:13px;background:linear-gradient(#d4dae2,#f4f4f4);border:1px solid #7a7a7a;box-sizing:border-box;box-shadow:inset 0 0 0 1px #fff;"></div>
<div style="position:absolute;left:201px;top:300px;width:1041px;height:1px;background:#dedede;"></div>
<div class="t" style="left:204.50px;top:306.00px;font-size:10px;line-height:10px;color:#555555;font-weight:normal;font-style:normal;letter-spacing:0.700px;">Thu</div>
<div style="position:absolute;left:231.8px;top:311.5px;width:8.5px;height:2.2px;background:#2f8a70;"></div>
<div style="position:absolute;left:234.9px;top:308px;width:2.2px;height:9.5px;background:#2f8a70;"></div>
<div style="position:absolute;left:245px;top:304px;width:47px;height:20px;background:#fff;border:1px solid #c9c9c9;box-sizing:border-box;"></div>
<div class="t" style="left:253.98px;top:311.30px;font-size:8px;line-height:8px;color:#333333;font-weight:normal;font-style:normal;letter-spacing:0.013px;">0:00</div>
<div style="position:absolute;left:298px;top:304px;width:47px;height:20px;background:#fff;border:1px solid #c9c9c9;box-sizing:border-box;"></div>
<div class="t" style="left:306.90px;top:311.30px;font-size:8px;line-height:8px;color:#333333;font-weight:normal;font-style:normal;letter-spacing:0.040px;">7:30</div>
<div style="position:absolute;left:351px;top:304px;width:10px;height:20px;background:#3a80c8;"></div>
<div class="t" style="left:352.40px;top:310.10px;font-size:10px;line-height:10px;color:#ffffff;font-weight:normal;font-style:normal;letter-spacing:0.000px;">R</div>
<div style="position:absolute;left:366px;top:304px;width:47px;height:20px;background:#fff;border:1px solid #c9c9c9;box-sizing:border-box;"></div>
<div class="t" style="left:374.98px;top:311.30px;font-size:8px;line-height:8px;color:#333333;font-weight:normal;font-style:normal;letter-spacing:0.013px;">0:00</div>
<div style="position:absolute;left:419px;top:304px;width:10px;height:20px;background:#3a80c8;"></div>
<div class="t" style="left:420.40px;top:310.10px;font-size:10px;line-height:10px;color:#ffffff;font-weight:normal;font-style:normal;letter-spacing:0.000px;">R</div>
<div style="position:absolute;left:435px;top:304px;width:47px;height:20px;background:#fff;border:1px solid #6d6d6d;box-sizing:border-box;"></div>
<div class="t" style="left:443.98px;top:311.30px;font-size:8px;line-height:8px;color:#bdbdbd;font-weight:normal;font-style:normal;letter-spacing:0.013px;">0:00</div>
<div style="position:absolute;left:487px;top:304px;width:11px;height:20px;background:#3a80c8;"></div>
<svg style="position:absolute;left:489px;top:311px;" width="7" height="7" viewBox="0 0 7 7"><path d="M6.2 1.2 L2.4 3.6 L6.2 6" fill="none" stroke="#fff" stroke-width="1.1"/></svg>
<div style="position:absolute;left:503px;top:304px;width:47px;height:20px;background:#fff;border:1px solid #6d6d6d;box-sizing:border-box;"></div>
<div class="t" style="left:511.98px;top:311.30px;font-size:8px;line-height:8px;color:#bdbdbd;font-weight:normal;font-style:normal;letter-spacing:0.013px;">0:00</div>
<div style="position:absolute;left:556px;top:304px;width:11px;height:20px;background:#3a80c8;"></div>
<svg style="position:absolute;left:558px;top:311px;" width="7" height="7" viewBox="0 0 7 7"><path d="M6.2 1.2 L2.4 3.6 L6.2 6" fill="none" stroke="#fff" stroke-width="1.1"/></svg>
<div style="position:absolute;left:572px;top:304px;width:46px;height:20px;background:#fff;border:1px solid #6d6d6d;box-sizing:border-box;"></div>
<div class="t" style="left:580.98px;top:311.30px;font-size:8px;line-height:8px;color:#bdbdbd;font-weight:normal;font-style:normal;letter-spacing:0.013px;">0:00</div>
<div style="position:absolute;left:624px;top:304px;width:11px;height:20px;background:#3a80c8;"></div>
<svg style="position:absolute;left:626px;top:311px;" width="7" height="7" viewBox="0 0 7 7"><path d="M6.2 1.2 L2.4 3.6 L6.2 6" fill="none" stroke="#fff" stroke-width="1.1"/></svg>
<div style="position:absolute;left:640px;top:304px;width:47px;height:20px;background:#fff;border:1px solid #6d6d6d;box-sizing:border-box;"></div>
<div class="t" style="left:648.98px;top:311.30px;font-size:8px;line-height:8px;color:#bdbdbd;font-weight:normal;font-style:normal;letter-spacing:0.013px;">0:00</div>
<div style="position:absolute;left:693px;top:304px;width:11px;height:20px;background:#3a80c8;"></div>
<svg style="position:absolute;left:695px;top:311px;" width="7" height="7" viewBox="0 0 7 7"><path d="M6.2 1.2 L2.4 3.6 L6.2 6" fill="none" stroke="#fff" stroke-width="1.1"/></svg>
<div style="position:absolute;left:709px;top:304px;width:46px;height:20px;background:#fff;border:1px solid #c9c9c9;box-sizing:border-box;"></div>
<div class="t" style="left:717.98px;top:311.30px;font-size:8px;line-height:8px;color:#333333;font-weight:normal;font-style:normal;letter-spacing:0.013px;">0:00</div>
<div style="position:absolute;left:761px;top:304px;width:47px;height:20px;background:#fff;border:1px solid #c9c9c9;box-sizing:border-box;"></div>
<div class="t" style="left:769.98px;top:311.30px;font-size:8px;line-height:8px;color:#333333;font-weight:normal;font-style:normal;letter-spacing:0.013px;">0:00</div>
<div style="position:absolute;left:814px;top:304px;width:46px;height:20px;background:#fff;border:1px solid #c9c9c9;box-sizing:border-box;"></div>
<div class="t" style="left:822.90px;top:311.30px;font-size:8px;line-height:8px;color:#333333;font-weight:normal;font-style:normal;letter-spacing:0.040px;">7:30</div>
<div style="position:absolute;left:866px;top:304px;width:106px;height:21px;background:#fff;border:1px solid #cfcfcf;box-sizing:border-box;"></div>
<div class="t" style="left:877.90px;top:311.30px;font-size:8px;line-height:8px;color:#333333;font-weight:normal;font-style:normal;letter-spacing:-0.253px;">Standard Day</div>
<div style="position:absolute;left:955px;top:305px;width:17px;height:19px;background:linear-gradient(#f6f6f6,#c6c6c6);border:1px solid #585858;box-shadow:inset 0 0 0 1px #fff;box-sizing:border-box;"></div>
<svg style="position:absolute;left:959px;top:313px;" width="9" height="5" viewBox="0 0 9 5"><path d="M0.5 0.5 L8 0.5 L4.25 4.5 Z" fill="#000"/></svg>
<div style="position:absolute;left:979px;top:304px;width:88px;height:21px;background:#fff;border:1px solid #cfcfcf;box-sizing:border-box;"></div>
<div class="t" style="left:990.86px;top:311.30px;font-size:8px;line-height:8px;color:#333333;font-weight:normal;font-style:normal;letter-spacing:-0.178px;">Premium 10%</div>
<div style="position:absolute;left:1050px;top:305px;width:17px;height:19px;background:linear-gradient(#f6f6f6,#c6c6c6);border:1px solid #585858;box-shadow:inset 0 0 0 1px #fff;box-sizing:border-box;"></div>
<svg style="position:absolute;left:1054px;top:313px;" width="9" height="5" viewBox="0 0 9 5"><path d="M0.5 0.5 L8 0.5 L4.25 4.5 Z" fill="#000"/></svg>
<div style="position:absolute;left:1075px;top:304px;width:66px;height:20px;background:#fff;border:1px solid #5e5e5e;box-sizing:border-box;"></div>
<svg style="position:absolute;left:1149px;top:306px;" width="15" height="16" viewBox="0 0 15 16"><rect x="3.5" y="0" width="7" height="5.2" fill="#3b3b3b"/><path d="M7 5 V8.5 M2.3 11 V8.5 H11.7 V11" fill="none" stroke="#3b3b3b" stroke-width="1.3"/><rect x="0" y="11" width="5.2" height="5" fill="#3b3b3b"/><rect x="9" y="11" width="5.2" height="5" fill="#3b3b3b"/></svg>
<div style="position:absolute;left:1170px;top:306px;width:13px;height:13px;background:linear-gradient(#f6f6f6,#ececec);border:1px solid #b4b4b4;box-sizing:border-box;"></div>
<div style="position:absolute;left:1196px;top:306px;width:13px;height:13px;background:linear-gradient(#f6f6f6,#ececec);border:1px solid #b4b4b4;box-sizing:border-box;"></div>
<div style="position:absolute;left:1220px;top:306px;width:13px;height:13px;background:linear-gradient(#d4dae2,#f4f4f4);border:1px solid #7a7a7a;box-sizing:border-box;box-shadow:inset 0 0 0 1px #fff;"></div>
<div style="position:absolute;left:201px;top:328px;width:1041px;height:1px;background:#dedede;"></div>
<div class="t" style="left:203.90px;top:334.00px;font-size:10px;line-height:10px;color:#555555;font-weight:normal;font-style:normal;letter-spacing:0.900px;">Fri</div>
<div style="position:absolute;left:231.8px;top:339.5px;width:8.5px;height:2.2px;background:#2f8a70;"></div>
<div style="position:absolute;left:234.9px;top:336px;width:2.2px;height:9.5px;background:#2f8a70;"></div>
<div style="position:absolute;left:245px;top:332px;width:47px;height:20px;background:#fff;border:1px solid #c9c9c9;box-sizing:border-box;"></div>
<div class="t" style="left:253.98px;top:339.30px;font-size:8px;line-height:8px;color:#333333;font-weight:normal;font-style:normal;letter-spacing:0.013px;">0:00</div>
<div style="position:absolute;left:298px;top:332px;width:47px;height:20px;background:#fff;border:1px solid #c9c9c9;box-sizing:border-box;"></div>
<div class="t" style="left:306.90px;top:339.30px;font-size:8px;line-height:8px;color:#333333;font-weight:normal;font-style:normal;letter-spacing:0.040px;">7:00</div>
<div style="position:absolute;left:351px;top:332px;width:10px;height:20px;background:#3a80c8;"></div>
<div class="t" style="left:352.40px;top:338.10px;font-size:10px;line-height:10px;color:#ffffff;font-weight:normal;font-style:normal;letter-spacing:0.000px;">R</div>
<div style="position:absolute;left:366px;top:332px;width:47px;height:20px;background:#fff;border:1px solid #c9c9c9;box-sizing:border-box;"></div>
<div class="t" style="left:374.98px;top:339.30px;font-size:8px;line-height:8px;color:#333333;font-weight:normal;font-style:normal;letter-spacing:0.013px;">0:00</div>
<div style="position:absolute;left:419px;top:332px;width:10px;height:20px;background:#3a80c8;"></div>
<div class="t" style="left:420.40px;top:338.10px;font-size:10px;line-height:10px;color:#ffffff;font-weight:normal;font-style:normal;letter-spacing:0.000px;">R</div>
<div style="position:absolute;left:435px;top:332px;width:47px;height:20px;background:#fff;border:1px solid #6d6d6d;box-sizing:border-box;"></div>
<div class="t" style="left:443.98px;top:339.30px;font-size:8px;line-height:8px;color:#bdbdbd;font-weight:normal;font-style:normal;letter-spacing:0.013px;">0:00</div>
<div style="position:absolute;left:487px;top:332px;width:11px;height:20px;background:#3a80c8;"></div>
<svg style="position:absolute;left:489px;top:339px;" width="7" height="7" viewBox="0 0 7 7"><path d="M6.2 1.2 L2.4 3.6 L6.2 6" fill="none" stroke="#fff" stroke-width="1.1"/></svg>
<div style="position:absolute;left:503px;top:332px;width:47px;height:20px;background:#fff;border:1px solid #6d6d6d;box-sizing:border-box;"></div>
<div class="t" style="left:511.98px;top:339.30px;font-size:8px;line-height:8px;color:#bdbdbd;font-weight:normal;font-style:normal;letter-spacing:0.013px;">0:00</div>
<div style="position:absolute;left:556px;top:332px;width:11px;height:20px;background:#3a80c8;"></div>
<svg style="position:absolute;left:558px;top:339px;" width="7" height="7" viewBox="0 0 7 7"><path d="M6.2 1.2 L2.4 3.6 L6.2 6" fill="none" stroke="#fff" stroke-width="1.1"/></svg>
<div style="position:absolute;left:572px;top:332px;width:46px;height:20px;background:#fff;border:1px solid #6d6d6d;box-sizing:border-box;"></div>
<div class="t" style="left:580.98px;top:339.30px;font-size:8px;line-height:8px;color:#bdbdbd;font-weight:normal;font-style:normal;letter-spacing:0.013px;">0:00</div>
<div style="position:absolute;left:624px;top:332px;width:11px;height:20px;background:#3a80c8;"></div>
<svg style="position:absolute;left:626px;top:339px;" width="7" height="7" viewBox="0 0 7 7"><path d="M6.2 1.2 L2.4 3.6 L6.2 6" fill="none" stroke="#fff" stroke-width="1.1"/></svg>
<div style="position:absolute;left:640px;top:332px;width:47px;height:20px;background:#fff;border:1px solid #6d6d6d;box-sizing:border-box;"></div>
<div class="t" style="left:648.98px;top:339.30px;font-size:8px;line-height:8px;color:#bdbdbd;font-weight:normal;font-style:normal;letter-spacing:0.013px;">0:00</div>
<div style="position:absolute;left:693px;top:332px;width:11px;height:20px;background:#3a80c8;"></div>
<svg style="position:absolute;left:695px;top:339px;" width="7" height="7" viewBox="0 0 7 7"><path d="M6.2 1.2 L2.4 3.6 L6.2 6" fill="none" stroke="#fff" stroke-width="1.1"/></svg>
<div style="position:absolute;left:709px;top:332px;width:46px;height:20px;background:#fff;border:1px solid #c9c9c9;box-sizing:border-box;"></div>
<div class="t" style="left:717.98px;top:339.30px;font-size:8px;line-height:8px;color:#333333;font-weight:normal;font-style:normal;letter-spacing:0.013px;">0:00</div>
<div style="position:absolute;left:761px;top:332px;width:47px;height:20px;background:#fff;border:1px solid #c9c9c9;box-sizing:border-box;"></div>
<div class="t" style="left:769.98px;top:339.30px;font-size:8px;line-height:8px;color:#333333;font-weight:normal;font-style:normal;letter-spacing:0.013px;">0:00</div>
<div style="position:absolute;left:814px;top:332px;width:46px;height:20px;background:#fff;border:1px solid #c9c9c9;box-sizing:border-box;"></div>
<div class="t" style="left:822.90px;top:339.30px;font-size:8px;line-height:8px;color:#333333;font-weight:normal;font-style:normal;letter-spacing:0.040px;">7:30</div>
<div style="position:absolute;left:866px;top:332px;width:106px;height:21px;background:#fff;border:1px solid #cfcfcf;box-sizing:border-box;"></div>
<div class="t" style="left:877.90px;top:339.30px;font-size:8px;line-height:8px;color:#333333;font-weight:normal;font-style:normal;letter-spacing:-0.253px;">Standard Day</div>
<div style="position:absolute;left:955px;top:333px;width:17px;height:19px;background:linear-gradient(#f6f6f6,#c6c6c6);border:1px solid #585858;box-shadow:inset 0 0 0 1px #fff;box-sizing:border-box;"></div>
<svg style="position:absolute;left:959px;top:341px;" width="9" height="5" viewBox="0 0 9 5"><path d="M0.5 0.5 L8 0.5 L4.25 4.5 Z" fill="#000"/></svg>
<div style="position:absolute;left:979px;top:332px;width:88px;height:21px;background:#fff;border:1px solid #cfcfcf;box-sizing:border-box;"></div>
<div class="t" style="left:990.86px;top:339.30px;font-size:8px;line-height:8px;color:#333333;font-weight:normal;font-style:normal;letter-spacing:-0.178px;">Premium 10%</div>
<div style="position:absolute;left:1050px;top:333px;width:17px;height:19px;background:linear-gradient(#f6f6f6,#c6c6c6);border:1px solid #585858;box-shadow:inset 0 0 0 1px #fff;box-sizing:border-box;"></div>
<svg style="position:absolute;left:1054px;top:341px;" width="9" height="5" viewBox="0 0 9 5"><path d="M0.5 0.5 L8 0.5 L4.25 4.5 Z" fill="#000"/></svg>
<div style="position:absolute;left:1075px;top:332px;width:66px;height:20px;background:#fff;border:1px solid #5e5e5e;box-sizing:border-box;"></div>
<svg style="position:absolute;left:1149px;top:334px;" width="15" height="16" viewBox="0 0 15 16"><rect x="3.5" y="0" width="7" height="5.2" fill="#3b3b3b"/><path d="M7 5 V8.5 M2.3 11 V8.5 H11.7 V11" fill="none" stroke="#3b3b3b" stroke-width="1.3"/><rect x="0" y="11" width="5.2" height="5" fill="#3b3b3b"/><rect x="9" y="11" width="5.2" height="5" fill="#3b3b3b"/></svg>
<div style="position:absolute;left:1170px;top:334px;width:13px;height:13px;background:linear-gradient(#f6f6f6,#ececec);border:1px solid #b4b4b4;box-sizing:border-box;"></div>
<div style="position:absolute;left:1196px;top:334px;width:13px;height:13px;background:linear-gradient(#f6f6f6,#ececec);border:1px solid #b4b4b4;box-sizing:border-box;"></div>
<div style="position:absolute;left:1220px;top:334px;width:13px;height:13px;background:linear-gradient(#d4dae2,#f4f4f4);border:1px solid #7a7a7a;box-sizing:border-box;box-shadow:inset 0 0 0 1px #fff;"></div>
<div style="position:absolute;left:201px;top:356px;width:1041px;height:1px;background:#dedede;"></div>
<div class="t" style="left:204.20px;top:362.00px;font-size:10px;line-height:10px;color:#555555;font-weight:normal;font-style:normal;letter-spacing:1.050px;">Sat</div>
<div style="position:absolute;left:231.8px;top:367.5px;width:8.5px;height:2.2px;background:#2f8a70;"></div>
<div style="position:absolute;left:234.9px;top:364px;width:2.2px;height:9.5px;background:#2f8a70;"></div>
<div style="position:absolute;left:245px;top:360px;width:47px;height:20px;background:#fff;border:1px solid #c9c9c9;box-sizing:border-box;"></div>
<div class="t" style="left:253.98px;top:367.30px;font-size:8px;line-height:8px;color:#333333;font-weight:normal;font-style:normal;letter-spacing:0.013px;">0:00</div>
<div style="position:absolute;left:298px;top:360px;width:47px;height:20px;background:#fff;border:1px solid #c9c9c9;box-sizing:border-box;"></div>
<div class="t" style="left:306.98px;top:367.30px;font-size:8px;line-height:8px;color:#333333;font-weight:normal;font-style:normal;letter-spacing:0.013px;">0:00</div>
<div style="position:absolute;left:351px;top:360px;width:10px;height:20px;background:#3a80c8;"></div>
<div class="t" style="left:352.40px;top:366.10px;font-size:10px;line-height:10px;color:#ffffff;font-weight:normal;font-style:normal;letter-spacing:0.000px;">R</div>
<div style="position:absolute;left:366px;top:360px;width:47px;height:20px;background:#fff;border:1px solid #c9c9c9;box-sizing:border-box;"></div>
<div class="t" style="left:374.98px;top:367.30px;font-size:8px;line-height:8px;color:#333333;font-weight:normal;font-style:normal;letter-spacing:0.013px;">0:00</div>
<div style="position:absolute;left:419px;top:360px;width:10px;height:20px;background:#3a80c8;"></div>
<div class="t" style="left:420.40px;top:366.10px;font-size:10px;line-height:10px;color:#ffffff;font-weight:normal;font-style:normal;letter-spacing:0.000px;">R</div>
<div style="position:absolute;left:435px;top:360px;width:47px;height:20px;background:#fff;border:1px solid #6d6d6d;box-sizing:border-box;"></div>
<div class="t" style="left:443.98px;top:367.30px;font-size:8px;line-height:8px;color:#bdbdbd;font-weight:normal;font-style:normal;letter-spacing:0.013px;">0:00</div>
<div style="position:absolute;left:487px;top:360px;width:11px;height:20px;background:#3a80c8;"></div>
<svg style="position:absolute;left:489px;top:367px;" width="7" height="7" viewBox="0 0 7 7"><path d="M6.2 1.2 L2.4 3.6 L6.2 6" fill="none" stroke="#fff" stroke-width="1.1"/></svg>
<div style="position:absolute;left:503px;top:360px;width:47px;height:20px;background:#fff;border:1px solid #6d6d6d;box-sizing:border-box;"></div>
<div class="t" style="left:511.98px;top:367.30px;font-size:8px;line-height:8px;color:#bdbdbd;font-weight:normal;font-style:normal;letter-spacing:0.013px;">0:00</div>
<div style="position:absolute;left:556px;top:360px;width:11px;height:20px;background:#3a80c8;"></div>
<svg style="position:absolute;left:558px;top:367px;" width="7" height="7" viewBox="0 0 7 7"><path d="M6.2 1.2 L2.4 3.6 L6.2 6" fill="none" stroke="#fff" stroke-width="1.1"/></svg>
<div style="position:absolute;left:572px;top:360px;width:46px;height:20px;background:#fff;border:1px solid #6d6d6d;box-sizing:border-box;"></div>
<div class="t" style="left:580.98px;top:367.30px;font-size:8px;line-height:8px;color:#bdbdbd;font-weight:normal;font-style:normal;letter-spacing:0.013px;">0:00</div>
<div style="position:absolute;left:624px;top:360px;width:11px;height:20px;background:#3a80c8;"></div>
<svg style="position:absolute;left:626px;top:367px;" width="7" height="7" viewBox="0 0 7 7"><path d="M6.2 1.2 L2.4 3.6 L6.2 6" fill="none" stroke="#fff" stroke-width="1.1"/></svg>
<div style="position:absolute;left:640px;top:360px;width:47px;height:20px;background:#fff;border:1px solid #6d6d6d;box-sizing:border-box;"></div>
<div class="t" style="left:648.98px;top:367.30px;font-size:8px;line-height:8px;color:#bdbdbd;font-weight:normal;font-style:normal;letter-spacing:0.013px;">0:00</div>
<div style="position:absolute;left:693px;top:360px;width:11px;height:20px;background:#3a80c8;"></div>
<svg style="position:absolute;left:695px;top:367px;" width="7" height="7" viewBox="0 0 7 7"><path d="M6.2 1.2 L2.4 3.6 L6.2 6" fill="none" stroke="#fff" stroke-width="1.1"/></svg>
<div style="position:absolute;left:709px;top:360px;width:46px;height:20px;background:#fff;border:1px solid #c9c9c9;box-sizing:border-box;"></div>
<div class="t" style="left:717.98px;top:367.30px;font-size:8px;line-height:8px;color:#333333;font-weight:normal;font-style:normal;letter-spacing:0.013px;">0:00</div>
<div style="position:absolute;left:761px;top:360px;width:47px;height:20px;background:#fff;border:1px solid #c9c9c9;box-sizing:border-box;"></div>
<div class="t" style="left:769.98px;top:367.30px;font-size:8px;line-height:8px;color:#333333;font-weight:normal;font-style:normal;letter-spacing:0.013px;">0:00</div>
<div style="position:absolute;left:814px;top:360px;width:46px;height:20px;background:#fff;border:1px solid #c9c9c9;box-sizing:border-box;"></div>
<div class="t" style="left:822.98px;top:367.30px;font-size:8px;line-height:8px;color:#333333;font-weight:normal;font-style:normal;letter-spacing:0.013px;">0:00</div>
<div style="position:absolute;left:866px;top:360px;width:106px;height:21px;background:#fff;border:1px solid #cfcfcf;box-sizing:border-box;"></div>
<div class="t" style="left:877.66px;top:367.30px;font-size:8px;line-height:8px;color:#333333;font-weight:normal;font-style:normal;letter-spacing:-0.249px;">Rest Day</div>
<div style="position:absolute;left:955px;top:361px;width:17px;height:19px;background:linear-gradient(#f6f6f6,#c6c6c6);border:1px solid #585858;box-shadow:inset 0 0 0 1px #fff;box-sizing:border-box;"></div>
<svg style="position:absolute;left:959px;top:369px;" width="9" height="5" viewBox="0 0 9 5"><path d="M0.5 0.5 L8 0.5 L4.25 4.5 Z" fill="#000"/></svg>
<div style="position:absolute;left:979px;top:360px;width:88px;height:21px;background:#fff;border:1px solid #cfcfcf;box-sizing:border-box;"></div>
<div class="t" style="left:990.86px;top:367.30px;font-size:8px;line-height:8px;color:#333333;font-weight:normal;font-style:normal;letter-spacing:-0.178px;">Premium 10%</div>
<div style="position:absolute;left:1050px;top:361px;width:17px;height:19px;background:linear-gradient(#f6f6f6,#c6c6c6);border:1px solid #585858;box-shadow:inset 0 0 0 1px #fff;box-sizing:border-box;"></div>
<svg style="position:absolute;left:1054px;top:369px;" width="9" height="5" viewBox="0 0 9 5"><path d="M0.5 0.5 L8 0.5 L4.25 4.5 Z" fill="#000"/></svg>
<div style="position:absolute;left:1075px;top:360px;width:66px;height:20px;background:#fff;border:1px solid #5e5e5e;box-sizing:border-box;"></div>
<svg style="position:absolute;left:1149px;top:362px;" width="15" height="16" viewBox="0 0 15 16"><rect x="3.5" y="0" width="7" height="5.2" fill="#3b3b3b"/><path d="M7 5 V8.5 M2.3 11 V8.5 H11.7 V11" fill="none" stroke="#3b3b3b" stroke-width="1.3"/><rect x="0" y="11" width="5.2" height="5" fill="#3b3b3b"/><rect x="9" y="11" width="5.2" height="5" fill="#3b3b3b"/></svg>
<div style="position:absolute;left:1170px;top:362px;width:13px;height:13px;background:linear-gradient(#f6f6f6,#ececec);border:1px solid #b4b4b4;box-sizing:border-box;"></div>
<div style="position:absolute;left:1196px;top:362px;width:13px;height:13px;background:linear-gradient(#f6f6f6,#ececec);border:1px solid #b4b4b4;box-sizing:border-box;"></div>
<div style="position:absolute;left:1220px;top:362px;width:13px;height:13px;background:linear-gradient(#d4dae2,#f4f4f4);border:1px solid #7a7a7a;box-sizing:border-box;box-shadow:inset 0 0 0 1px #fff;"></div>
<div style="position:absolute;left:201px;top:384px;width:1041px;height:1px;background:#dedede;"></div>
<div class="t" style="left:204.20px;top:390.00px;font-size:10px;line-height:10px;color:#555555;font-weight:normal;font-style:normal;letter-spacing:0.600px;">Sun</div>
<div style="position:absolute;left:231.8px;top:395.5px;width:8.5px;height:2.2px;background:#2f8a70;"></div>
<div style="position:absolute;left:234.9px;top:392px;width:2.2px;height:9.5px;background:#2f8a70;"></div>
<div style="position:absolute;left:245px;top:388px;width:47px;height:20px;background:#fff;border:1px solid #c9c9c9;box-sizing:border-box;"></div>
<div class="t" style="left:253.98px;top:395.30px;font-size:8px;line-height:8px;color:#333333;font-weight:normal;font-style:normal;letter-spacing:0.013px;">0:00</div>
<div style="position:absolute;left:298px;top:388px;width:47px;height:20px;background:#fff;border:1px solid #c9c9c9;box-sizing:border-box;"></div>
<div class="t" style="left:306.98px;top:395.30px;font-size:8px;line-height:8px;color:#333333;font-weight:normal;font-style:normal;letter-spacing:0.013px;">0:00</div>
<div style="position:absolute;left:351px;top:388px;width:10px;height:20px;background:#3a80c8;"></div>
<div class="t" style="left:352.40px;top:394.10px;font-size:10px;line-height:10px;color:#ffffff;font-weight:normal;font-style:normal;letter-spacing:0.000px;">R</div>
<div style="position:absolute;left:366px;top:388px;width:47px;height:20px;background:#fff;border:1px solid #c9c9c9;box-sizing:border-box;"></div>
<div class="t" style="left:374.98px;top:395.30px;font-size:8px;line-height:8px;color:#333333;font-weight:normal;font-style:normal;letter-spacing:0.013px;">0:00</div>
<div style="position:absolute;left:419px;top:388px;width:10px;height:20px;background:#3a80c8;"></div>
<div class="t" style="left:420.40px;top:394.10px;font-size:10px;line-height:10px;color:#ffffff;font-weight:normal;font-style:normal;letter-spacing:0.000px;">R</div>
<div style="position:absolute;left:435px;top:388px;width:47px;height:20px;background:#fff;border:1px solid #6d6d6d;box-sizing:border-box;"></div>
<div class="t" style="left:443.98px;top:395.30px;font-size:8px;line-height:8px;color:#bdbdbd;font-weight:normal;font-style:normal;letter-spacing:0.013px;">0:00</div>
<div style="position:absolute;left:487px;top:388px;width:11px;height:20px;background:#3a80c8;"></div>
<svg style="position:absolute;left:489px;top:395px;" width="7" height="7" viewBox="0 0 7 7"><path d="M6.2 1.2 L2.4 3.6 L6.2 6" fill="none" stroke="#fff" stroke-width="1.1"/></svg>
<div style="position:absolute;left:503px;top:388px;width:47px;height:20px;background:#fff;border:1px solid #6d6d6d;box-sizing:border-box;"></div>
<div class="t" style="left:511.98px;top:395.30px;font-size:8px;line-height:8px;color:#bdbdbd;font-weight:normal;font-style:normal;letter-spacing:0.013px;">0:00</div>
<div style="position:absolute;left:556px;top:388px;width:11px;height:20px;background:#3a80c8;"></div>
<svg style="position:absolute;left:558px;top:395px;" width="7" height="7" viewBox="0 0 7 7"><path d="M6.2 1.2 L2.4 3.6 L6.2 6" fill="none" stroke="#fff" stroke-width="1.1"/></svg>
<div style="position:absolute;left:572px;top:388px;width:46px;height:20px;background:#fff;border:1px solid #6d6d6d;box-sizing:border-box;"></div>
<div class="t" style="left:580.98px;top:395.30px;font-size:8px;line-height:8px;color:#bdbdbd;font-weight:normal;font-style:normal;letter-spacing:0.013px;">0:00</div>
<div style="position:absolute;left:624px;top:388px;width:11px;height:20px;background:#3a80c8;"></div>
<svg style="position:absolute;left:626px;top:395px;" width="7" height="7" viewBox="0 0 7 7"><path d="M6.2 1.2 L2.4 3.6 L6.2 6" fill="none" stroke="#fff" stroke-width="1.1"/></svg>
<div style="position:absolute;left:640px;top:388px;width:47px;height:20px;background:#fff;border:1px solid #6d6d6d;box-sizing:border-box;"></div>
<div class="t" style="left:648.98px;top:395.30px;font-size:8px;line-height:8px;color:#bdbdbd;font-weight:normal;font-style:normal;letter-spacing:0.013px;">0:00</div>
<div style="position:absolute;left:693px;top:388px;width:11px;height:20px;background:#3a80c8;"></div>
<svg style="position:absolute;left:695px;top:395px;" width="7" height="7" viewBox="0 0 7 7"><path d="M6.2 1.2 L2.4 3.6 L6.2 6" fill="none" stroke="#fff" stroke-width="1.1"/></svg>
<div style="position:absolute;left:709px;top:388px;width:46px;height:20px;background:#fff;border:1px solid #c9c9c9;box-sizing:border-box;"></div>
<div class="t" style="left:717.98px;top:395.30px;font-size:8px;line-height:8px;color:#333333;font-weight:normal;font-style:normal;letter-spacing:0.013px;">0:00</div>
<div style="position:absolute;left:761px;top:388px;width:47px;height:20px;background:#fff;border:1px solid #c9c9c9;box-sizing:border-box;"></div>
<div class="t" style="left:769.98px;top:395.30px;font-size:8px;line-height:8px;color:#333333;font-weight:normal;font-style:normal;letter-spacing:0.013px;">0:00</div>
<div style="position:absolute;left:814px;top:388px;width:46px;height:20px;background:#fff;border:1px solid #c9c9c9;box-sizing:border-box;"></div>
<div class="t" style="left:822.98px;top:395.30px;font-size:8px;line-height:8px;color:#333333;font-weight:normal;font-style:normal;letter-spacing:0.013px;">0:00</div>
<div style="position:absolute;left:866px;top:388px;width:106px;height:21px;background:#fff;border:1px solid #cfcfcf;box-sizing:border-box;"></div>
<div class="t" style="left:877.66px;top:395.30px;font-size:8px;line-height:8px;color:#333333;font-weight:normal;font-style:normal;letter-spacing:-0.249px;">Rest Day</div>
<div style="position:absolute;left:955px;top:389px;width:17px;height:19px;background:linear-gradient(#f6f6f6,#c6c6c6);border:1px solid #585858;box-shadow:inset 0 0 0 1px #fff;box-sizing:border-box;"></div>
<svg style="position:absolute;left:959px;top:397px;" width="9" height="5" viewBox="0 0 9 5"><path d="M0.5 0.5 L8 0.5 L4.25 4.5 Z" fill="#000"/></svg>
<div style="position:absolute;left:979px;top:388px;width:88px;height:21px;background:#fff;border:1px solid #cfcfcf;box-sizing:border-box;"></div>
<div class="t" style="left:990.86px;top:395.30px;font-size:8px;line-height:8px;color:#333333;font-weight:normal;font-style:normal;letter-spacing:-0.178px;">Premium 10%</div>
<div style="position:absolute;left:1050px;top:389px;width:17px;height:19px;background:linear-gradient(#f6f6f6,#c6c6c6);border:1px solid #585858;box-shadow:inset 0 0 0 1px #fff;box-sizing:border-box;"></div>
<svg style="position:absolute;left:1054px;top:397px;" width="9" height="5" viewBox="0 0 9 5"><path d="M0.5 0.5 L8 0.5 L4.25 4.5 Z" fill="#000"/></svg>
<div style="position:absolute;left:1075px;top:388px;width:66px;height:20px;background:#fff;border:1px solid #5e5e5e;box-sizing:border-box;"></div>
<svg style="position:absolute;left:1149px;top:390px;" width="15" height="16" viewBox="0 0 15 16"><rect x="3.5" y="0" width="7" height="5.2" fill="#3b3b3b"/><path d="M7 5 V8.5 M2.3 11 V8.5 H11.7 V11" fill="none" stroke="#3b3b3b" stroke-width="1.3"/><rect x="0" y="11" width="5.2" height="5" fill="#3b3b3b"/><rect x="9" y="11" width="5.2" height="5" fill="#3b3b3b"/></svg>
<div style="position:absolute;left:1170px;top:390px;width:13px;height:13px;background:linear-gradient(#f6f6f6,#ececec);border:1px solid #b4b4b4;box-sizing:border-box;"></div>
<div style="position:absolute;left:1196px;top:390px;width:13px;height:13px;background:linear-gradient(#f6f6f6,#ececec);border:1px solid #b4b4b4;box-sizing:border-box;"></div>
<div style="position:absolute;left:1220px;top:390px;width:13px;height:13px;background:linear-gradient(#d4dae2,#f4f4f4);border:1px solid #7a7a7a;box-sizing:border-box;box-shadow:inset 0 0 0 1px #fff;"></div>
<div style="position:absolute;left:201px;top:412px;width:1041px;height:1px;background:#dedede;"></div>
<div class="t" style="left:245.18px;top:417.50px;font-size:10.5px;line-height:10.5px;color:#555555;font-weight:normal;font-style:normal;letter-spacing:1.355px;">0:00</div>
<div class="t" style="left:298.18px;top:417.50px;font-size:10.5px;line-height:10.5px;color:#555555;font-weight:normal;font-style:normal;letter-spacing:1.471px;">35:00</div>
<div class="t" style="left:366.28px;top:417.50px;font-size:10.5px;line-height:10.5px;color:#555555;font-weight:normal;font-style:normal;letter-spacing:1.355px;">0:00</div>
<div class="t" style="left:435.28px;top:417.50px;font-size:10.5px;line-height:10.5px;color:#555555;font-weight:normal;font-style:normal;letter-spacing:1.355px;">0:00</div>
<div class="t" style="left:503.18px;top:417.50px;font-size:10.5px;line-height:10.5px;color:#555555;font-weight:normal;font-style:normal;letter-spacing:1.355px;">0:00</div>
<div class="t" style="left:572.18px;top:417.50px;font-size:10.5px;line-height:10.5px;color:#555555;font-weight:normal;font-style:normal;letter-spacing:1.355px;">0:00</div>
<div class="t" style="left:640.18px;top:417.50px;font-size:10.5px;line-height:10.5px;color:#555555;font-weight:normal;font-style:normal;letter-spacing:1.355px;">0:00</div>
<div class="t" style="left:709.48px;top:417.50px;font-size:10.5px;line-height:10.5px;color:#555555;font-weight:normal;font-style:normal;letter-spacing:1.355px;">0:00</div>
<div class="t" style="left:761.08px;top:417.50px;font-size:10.5px;line-height:10.5px;color:#555555;font-weight:normal;font-style:normal;letter-spacing:1.355px;">0:00</div>
<div class="t" style="left:813.98px;top:417.50px;font-size:10.5px;line-height:10.5px;color:#555555;font-weight:normal;font-style:normal;letter-spacing:1.471px;">37:30</div>
<svg style="position:absolute;left:0;top:0" width="1263" height="615" viewBox="0 0 1263 615"><path d="M196.8 107.4 L200.8 111.3 L208.2 102.9" fill="none" stroke="#49ad4f" stroke-width="2.1"/><path d="M221 104.8 L229 112.4 M229 104.8 L221 112.4" fill="none" stroke="#e42128" stroke-width="2.1"/><path d="M244.5 102.5 H254 L256 104.5 V114 H244.5 Z" fill="none" stroke="#4a80cc" stroke-width="1.1"/><rect x="247" y="103.2" width="6" height="4.5" fill="none" stroke="#4a80cc" stroke-width="1"/><rect x="246.6" y="109.5" width="7.3" height="4.5" fill="none" stroke="#4a80cc" stroke-width="1"/><circle cx="273.8" cy="104.9" r="2.9" fill="none" stroke="#2c66c4" stroke-width="1.2"/><path d="M268.6 114.2 C 268.6 109.5, 271.5 108.5, 274 108.5 C 276 108.5, 277.5 109, 278.5 110" fill="none" stroke="#2c66c4" stroke-width="1.2"/><path d="M268.6 114.2 H276" stroke="#2c66c4" stroke-width="1.1"/><path d="M277 110.8 L279.4 113.2 L283.6 107.6" fill="none" stroke="#1d5cbf" stroke-width="1.4"/><path d="M297.3 102.8 H301.1 L298.6 109.2" fill="none" stroke="#1d5cbf" stroke-width="1.3"/><circle cx="302.6" cy="110.6" r="3" fill="#1d5cbf"/><path d="M300.90000000000003 110.6 H304.3" stroke="#fff" stroke-width="1"/><path d="M320.09999999999997 102.8 H323.9 L321.4 109.2" fill="none" stroke="#1d5cbf" stroke-width="1.3"/><circle cx="325.4" cy="110.6" r="2.7" fill="#fff" stroke="#1d5cbf" stroke-width="1.1"/><path d="M323.79999999999995 110.6 H327.0 M325.4 109 V112.2" stroke="#1d5cbf" stroke-width="0.9"/><circle cx="347.2" cy="107.8" r="6.6" fill="#1c5cbd"/><rect x="344.2" y="104.8" width="1.6" height="6" fill="#fff"/><path d="M350.2 104.6 V111.0 L346.0 107.8 Z" fill="#fff"/><circle cx="369.1" cy="107.8" r="6.6" fill="#1c5cbd"/><path d="M371.1 104.3 V111.3 L366.3 107.8 Z" fill="#fff"/><circle cx="392.3" cy="107.8" r="6.6" fill="#1c5cbd"/><path d="M390.5 104.3 V111.3 L395.3 107.8 Z" fill="#fff"/><circle cx="414.6" cy="107.8" r="6.6" fill="#1c5cbd"/><rect x="416.20000000000005" y="104.8" width="1.6" height="6" fill="#fff"/><path d="M411.6 104.6 V111.0 L416.0 107.8 Z" fill="#fff"/><path d="M437 114 H433 V102.6 H445.2 V107" fill="none" stroke="#2c66c4" stroke-width="1.2"/><rect x="432.4" y="102" width="13.4" height="2" fill="#2c66c4"/><rect x="434.5" y="100.4" width="1.6" height="2" fill="#2c66c4"/><rect x="442.3" y="100.4" width="1.6" height="2" fill="#2c66c4"/><circle cx="441.4" cy="109.6" r="2.3" fill="none" stroke="#2c66c4" stroke-width="1.2"/><path d="M443.1 111.4 L445.6 113.9" stroke="#2c66c4" stroke-width="1.3"/><circle cx="464.1" cy="105.4" r="2.3" fill="#1c5cbd"/><rect x="463.4" y="106" width="1.5" height="4.5" fill="#1c5cbd"/><rect x="458" y="110.3" width="13" height="2" fill="#1c5cbd" rx="0.8"/><rect x="459" y="113.2" width="11" height="1" fill="#7fa3dc"/><circle cx="487.1" cy="105.2" r="2.3" fill="#1c5cbd"/><rect x="486.4" y="106" width="1.5" height="4.5" fill="#1c5cbd"/><rect x="480" y="110.3" width="8.5" height="2" fill="#1c5cbd" rx="0.8"/><rect x="481" y="113.2" width="7" height="1" fill="#7fa3dc"/><circle cx="491.7" cy="112.6" r="3" fill="#fff" stroke="#1c5cbd" stroke-width="1.2"/><path d="M490.5 111.4 L492.9 113.8 M492.9 111.4 L490.5 113.8" stroke="#1c5cbd" stroke-width="0.9"/><path d="M503.5 102.6 H515.6 Q516.6 102.6 516.6 103.6 V111.2 Q516.6 112.2 515.6 112.2 H509 L506 115.3 V112.2 H503.5 Q502.5 112.2 502.5 111.2 V103.6 Q502.5 102.6 503.5 102.6 Z" fill="none" stroke="#2c66c4" stroke-width="1.1"/><rect x="504.5" y="104.5" width="10" height="5.5" fill="#8fb0e0"/><path d="M504.5 106.2 H514.5 M504.5 108.3 H514.5" stroke="#2c66c4" stroke-width="0.7"/><rect x="526.5" y="100.4" width="15.8" height="15.6" rx="1.5" fill="none" stroke="#5f8fd6" stroke-width="1.1"/><circle cx="539.60" cy="108.20" r="0.95" fill="#1c5cbd"/><circle cx="538.90" cy="110.80" r="0.95" fill="#1c5cbd"/><circle cx="537.00" cy="112.70" r="0.95" fill="#1c5cbd"/><circle cx="534.40" cy="113.40" r="0.95" fill="#1c5cbd"/><circle cx="531.80" cy="112.70" r="0.95" fill="#1c5cbd"/><circle cx="529.90" cy="110.80" r="0.95" fill="#1c5cbd"/><circle cx="529.20" cy="108.20" r="0.95" fill="#1c5cbd"/><circle cx="529.90" cy="105.60" r="0.95" fill="#1c5cbd"/><circle cx="531.80" cy="103.70" r="0.95" fill="#1c5cbd"/><circle cx="534.40" cy="103.00" r="0.95" fill="#1c5cbd"/><circle cx="537.00" cy="103.70" r="0.95" fill="#1c5cbd"/><circle cx="538.90" cy="105.60" r="0.95" fill="#1c5cbd"/><path d="M554.9 102.1 L556.8000000000001 103.5 L558.7 102.1" fill="none" stroke="#1c5cbd" stroke-width="1.1"/><rect x="555.8000000000001" y="103.39999999999999" width="2" height="1.3" fill="#1c5cbd"/><path d="M556.0 104.6 C 553.8000000000001 107.0, 552.1 109.8, 552.1 112.1 C 552.1 114.39999999999999, 554.0 115.1, 556.6 115.1 H558.6" fill="none" stroke="#1c5cbd" stroke-width="1.4"/><path d="M557.6 104.6 C 558.6 105.6, 559.9 107.1, 560.8000000000001 108.6" fill="none" stroke="#1c5cbd" stroke-width="1.4"/><path d="M560.3 114.6 L565.6 108" stroke="#1c5cbd" stroke-width="2.3"/><path d="M559.6 115.3 L560.3 114.3" stroke="#fff" stroke-width="0.8"/><path d="M577.4 109 L581.4 113 L589.6 104.3" fill="none" stroke="#1c5cbd" stroke-width="2"/><path d="M150.8 41 V51.2 H157.5 M164 46 V41" fill="none" stroke="#2b63c4" stroke-width="1.1"/><rect x="150.3" y="40" width="13.7" height="2" fill="#2b63c4"/><path d="M153.5 44.2 L154.6 43.4 V49.2 M156.6 43.3 L156 45.5" fill="none" stroke="#2b63c4" stroke-width="1.1"/><circle cx="163.2" cy="47.4" r="2.4" fill="none" stroke="#2b63c4" stroke-width="1.1"/><path d="M158.6 55.6 C 158.6 50.8, 167.8 50.8, 167.8 55.6 Z" fill="#fff" stroke="#2b63c4" stroke-width="1.1"/><path d="M163.2 51.8 V54.2" stroke="#2b63c4" stroke-width="1.2"/><rect x="153.55" y="72.55" width="12.999999999999995" height="11.9" rx="1" fill="none" stroke="#2b63c4" stroke-width="1.1"/><rect x="153" y="72" width="14.099999999999994" height="2.3" fill="#2b63c4"/><rect x="155.2" y="70.4" width="1.6" height="2" fill="#2b63c4"/><rect x="163.29999999999998" y="70.4" width="1.6" height="2" fill="#2b63c4"/><text x="160.1" y="83" font-family="Liberation Sans" font-weight="bold" font-size="8.3" stroke="#2b63c4" stroke-width="0.35" fill="#2b63c4" text-anchor="middle">15</text><circle cx="158.7" cy="106.4" r="2.7" fill="none" stroke="#2b63c4" stroke-width="1.1"/><circle cx="158.7" cy="113.7" r="3.3" fill="#1f55b8"/><rect x="152.15" y="134.55" width="12.300000000000006" height="12.300000000000006" rx="1" fill="none" stroke="#2b63c4" stroke-width="1.1"/><rect x="151.6" y="134" width="13.400000000000006" height="2.3" fill="#2b63c4"/><rect x="153.79999999999998" y="132.4" width="1.6" height="2" fill="#2b63c4"/><rect x="161.2" y="132.4" width="1.6" height="2" fill="#2b63c4"/><rect x="153.4" y="137.6" width="2.1" height="2.1" fill="#2b63c4"/><rect x="153.4" y="140.5" width="2.1" height="2.1" fill="#2b63c4"/><rect x="153.4" y="143.4" width="2.1" height="2.1" fill="#2b63c4"/><rect x="156.3" y="137.6" width="2.1" height="2.1" fill="#2b63c4"/><rect x="156.3" y="140.5" width="2.1" height="2.1" fill="#2b63c4"/><rect x="156.3" y="143.4" width="2.1" height="2.1" fill="#2b63c4"/><rect x="159.2" y="137.6" width="2.1" height="2.1" fill="#2b63c4"/><rect x="159.2" y="140.5" width="2.1" height="2.1" fill="#2b63c4"/><rect x="159.2" y="143.4" width="2.1" height="2.1" fill="#2b63c4"/><rect x="158.5" y="137" width="8.5" height="13.5" fill="#fff"/><circle cx="163.5" cy="141.3" r="2.3" fill="none" stroke="#2b63c4" stroke-width="1.1"/><path d="M158.8 150.2 C 158.8 144.60000000000002, 168.2 144.60000000000002, 168.2 150.2 Z" fill="#fff" stroke="#2b63c4" stroke-width="1.1"/><rect x="152.15" y="164.55" width="13.9" height="13.9" rx="1" fill="none" stroke="#2b63c4" stroke-width="1.1"/><rect x="151.6" y="164" width="15.0" height="2.3" fill="#2b63c4"/><rect x="153.79999999999998" y="162.4" width="1.6" height="2" fill="#2b63c4"/><rect x="162.79999999999998" y="162.4" width="1.6" height="2" fill="#2b63c4"/><rect x="155" y="166.5" width="1.1" height="11" fill="#2b63c4"/><rect x="157.3" y="167" width="7.6" height="10.3" fill="#8fb0e0"/><path d="M157.3 169.3 H165 M157.3 171.6 H165 M157.3 173.9 H165 M157.3 176.2 H165" stroke="#2b63c4" stroke-width="0.6"/><circle cx="158.6" cy="198.8" r="2.9" fill="none" stroke="#2b63c4" stroke-width="1.2"/><path d="M160.5 209.6 H153 V207.6 C 153 204.6, 155.4 203.2, 158.6 203.2 C 160.3 203.2, 161.7 203.7, 162.7 204.4" fill="none" stroke="#2b63c4" stroke-width="1.2"/><path d="M155.6 198.6 C 155.6 195, 161.6 195, 161.6 198.6" fill="none" stroke="#2b63c4" stroke-width="1"/><circle cx="163.5" cy="207.3" r="2.9" fill="#1f55b8"/><path d="M162.4 206.2 L164.6 208.4 M164.6 206.2 L162.4 208.4" stroke="#fff" stroke-width="0.9"/><circle cx="155.7" cy="233.4" r="2.3" fill="none" stroke="#2b63c4" stroke-width="1.2"/><path d="M152.4 241.3 V239.8 C 152.4 237.8, 153.8 236.6, 155.7 236.6 C 156.6 236.6, 157.4 236.9, 158 237.4" fill="none" stroke="#2b63c4" stroke-width="1.2"/><circle cx="160.9" cy="231.3" r="2.9" fill="#fff" stroke="#2b63c4" stroke-width="1.2"/><path d="M156.3 241.3 V239.5 C 156.3 236.8, 158.3 235.2, 161 235.2 C 163.7 235.2, 165.6 236.8, 165.6 239.5 V241.3 Z" fill="#fff" stroke="#2b63c4" stroke-width="1.2"/><path d="M152.4 241.3 H156.3" stroke="#2b63c4" stroke-width="1.2"/><rect x="152.45000000000002" y="259.85" width="12.499999999999995" height="12.599999999999989" rx="1" fill="none" stroke="#2b63c4" stroke-width="1.1"/><rect x="151.9" y="259.3" width="13.599999999999994" height="2.3" fill="#2b63c4"/><rect x="154.1" y="257.7" width="1.6" height="2" fill="#2b63c4"/><rect x="161.7" y="257.7" width="1.6" height="2" fill="#2b63c4"/><circle cx="162" cy="270.5" r="3.3" fill="#fff" stroke="#2b63c4" stroke-width="1.1"/><path d="M162 268.6 V270.7 H163.6" fill="none" stroke="#2b63c4" stroke-width="0.9"/><rect x="152.55" y="291.55" width="12.9" height="12.9" rx="1" fill="none" stroke="#2b63c4" stroke-width="1.1"/><rect x="152" y="291" width="14" height="2.3" fill="#2b63c4"/><rect x="154.2" y="289.4" width="1.6" height="2" fill="#2b63c4"/><rect x="162.2" y="289.4" width="1.6" height="2" fill="#2b63c4"/><path d="M159.7 322.5 V335 M155 335.3 H164.5 M153 325 H166.5" stroke="#2b63c4" stroke-width="1.2"/><path d="M154.7 325 L152 330 H157.4 Z M164.8 325 L162.1 330 H167.5 Z" fill="none" stroke="#2b63c4" stroke-width="0.9"/><path d="M151.8 330 C 152 332.8, 157.4 332.8, 157.6 330 Z M161.9 330 C 162.1 332.8, 167.5 332.8, 167.7 330 Z" fill="#2b63c4"/><rect x="153.4" y="353" width="8.6" height="8.6" fill="#1f55b8"/><rect x="158.4" y="358.3" width="8.4" height="8.4" fill="#fff" stroke="#2b63c4" stroke-width="1.1"/><circle cx="158.1" cy="388.5" r="3.1" fill="none" stroke="#2b63c4" stroke-width="1.2"/><path d="M160 398.4 H152.6 V396.3 C 152.6 393.2, 155 391.8, 158.1 391.8 C 159.8 391.8, 161.2 392.3, 162.2 393" fill="none" stroke="#2b63c4" stroke-width="1.2"/><circle cx="162.9" cy="395.8" r="3" fill="#1f55b8"/><path d="M161.8 394.7 L164 396.9 M164 394.7 L161.8 396.9" stroke="#fff" stroke-width="0.9"/><path d="M164.3 420.2 A 6 6 0 1 0 160.8 428.8" fill="none" stroke="#2b63c4" stroke-width="1.2"/><path d="M158.2 419.6 V423.4 H160.6" fill="none" stroke="#2b63c4" stroke-width="1.1"/><path d="M161.8 425.3 L163.8 427.5 L168.2 422.4" fill="none" stroke="#2b63c4" stroke-width="1.5"/><rect x="152.6" y="451.3" width="13.6" height="9.9" rx="1" fill="none" stroke="#2b63c4" stroke-width="1.1"/><path d="M156.6 451.3 V449 H162.2 V451.3 M155.8 451.3 V461.2 M163 451.3 V461.2" fill="none" stroke="#2b63c4" stroke-width="1"/><g transform="translate(0,7.2)"><rect x="151.6" y="470.4" width="15.3" height="14.8" rx="1.5" fill="none" stroke="#2b63c4" stroke-width="1.1"/><circle cx="164.00" cy="477.80" r="0.9" fill="#2b63c4"/><circle cx="163.36" cy="480.20" r="0.9" fill="#2b63c4"/><circle cx="161.60" cy="481.96" r="0.9" fill="#2b63c4"/><circle cx="159.20" cy="482.60" r="0.9" fill="#2b63c4"/><circle cx="156.80" cy="481.96" r="0.9" fill="#2b63c4"/><circle cx="155.04" cy="480.20" r="0.9" fill="#2b63c4"/><circle cx="154.40" cy="477.80" r="0.9" fill="#2b63c4"/><circle cx="155.04" cy="475.40" r="0.9" fill="#2b63c4"/><circle cx="156.80" cy="473.64" r="0.9" fill="#2b63c4"/><circle cx="159.20" cy="473.00" r="0.9" fill="#2b63c4"/><circle cx="161.60" cy="473.64" r="0.9" fill="#2b63c4"/><circle cx="163.36" cy="475.40" r="0.9" fill="#2b63c4"/></g><g transform="translate(0,0)"><path d="M152.2 518 V510.5 Q152.2 509.5 153.2 509.5 H166.4 Q167.4 509.5 167.4 510.5 V524 Q167.4 525 166.4 525 H163" fill="none" stroke="#2b63c4" stroke-width="1.1"/><circle cx="155.06" cy="515.22" r="0.9" fill="#2b63c4"/><circle cx="156.01" cy="512.98" r="0.9" fill="#2b63c4"/><circle cx="157.91" cy="511.46" r="0.9" fill="#2b63c4"/><circle cx="160.29" cy="511.01" r="0.9" fill="#2b63c4"/><circle cx="162.61" cy="511.74" r="0.9" fill="#2b63c4"/><circle cx="164.31" cy="513.47" r="0.9" fill="#2b63c4"/><circle cx="165.00" cy="515.80" r="0.9" fill="#2b63c4"/><circle cx="164.50" cy="518.18" r="0.9" fill="#2b63c4"/><circle cx="162.94" cy="520.05" r="0.9" fill="#2b63c4"/><rect x="150.8" y="519.6" width="8" height="5.6" fill="#fff" stroke="#2b63c4" stroke-width="1.1"/><rect x="150.3" y="519" width="9" height="1.8" fill="#2b63c4"/><path d="M164.6 520 C 164.2 523, 161.5 524.3, 158.5 524.4" fill="none" stroke="#2b63c4" stroke-width="1.5"/><path d="M156.2 524.4 L159.8 522 L159.6 526.6 Z" fill="#2b63c4"/></g><g transform="translate(0,12)"><path d="M155.70000000000002 529.9 L157.6 531.3000000000001 L159.5 529.9" fill="none" stroke="#2b63c4" stroke-width="1.1"/><rect x="156.6" y="531.2" width="2" height="1.3" fill="#2b63c4"/><path d="M156.8 532.4 C 154.6 534.8000000000001, 152.9 537.6, 152.9 539.9 C 152.9 542.2, 154.8 542.9, 157.4 542.9 H159.4" fill="none" stroke="#2b63c4" stroke-width="1.4"/><path d="M158.4 532.4 C 159.4 533.4, 160.70000000000002 534.9, 161.6 536.4" fill="none" stroke="#2b63c4" stroke-width="1.4"/><path d="M160 542.5 L165.2 536.3" stroke="#2b63c4" stroke-width="2.2"/></g><g transform="translate(0,15.5)"><path d="M155.70000000000002 557.3 L157.6 558.7 L159.5 557.3" fill="none" stroke="#2b63c4" stroke-width="1.1"/><rect x="156.6" y="558.6" width="2" height="1.3" fill="#2b63c4"/><path d="M156.8 559.8 C 154.6 562.2, 152.9 565, 152.9 567.3 C 152.9 569.6, 154.8 570.3, 157.4 570.3 H159.4" fill="none" stroke="#2b63c4" stroke-width="1.4"/><path d="M158.4 559.8 C 159.4 560.8, 160.70000000000002 562.3, 161.6 563.8" fill="none" stroke="#2b63c4" stroke-width="1.4"/><path d="M165.6 569.3 A 2.5 2.5 0 1 1 164.4 567.2" fill="none" stroke="#2b63c4" stroke-width="1.1"/><path d="M163.4 566 L165 567.3 L163.5 568.6" fill="none" stroke="#2b63c4" stroke-width="0.9"/></g><g transform="translate(-1,1.4)"><rect x="151.8" y="603" width="14" height="14" rx="1" fill="none" stroke="#2b63c4" stroke-width="1.1"/><rect x="151.8" y="602.4" width="14" height="2.2" fill="#2b63c4"/><path d="M154 607 H160 M154 609.3 H158.5 M154 611.6 H158" stroke="#2b63c4" stroke-width="0.9"/><circle cx="162.5" cy="610.5" r="2" fill="#fff" stroke="#2b63c4" stroke-width="1"/></g></svg>
</body></html>
